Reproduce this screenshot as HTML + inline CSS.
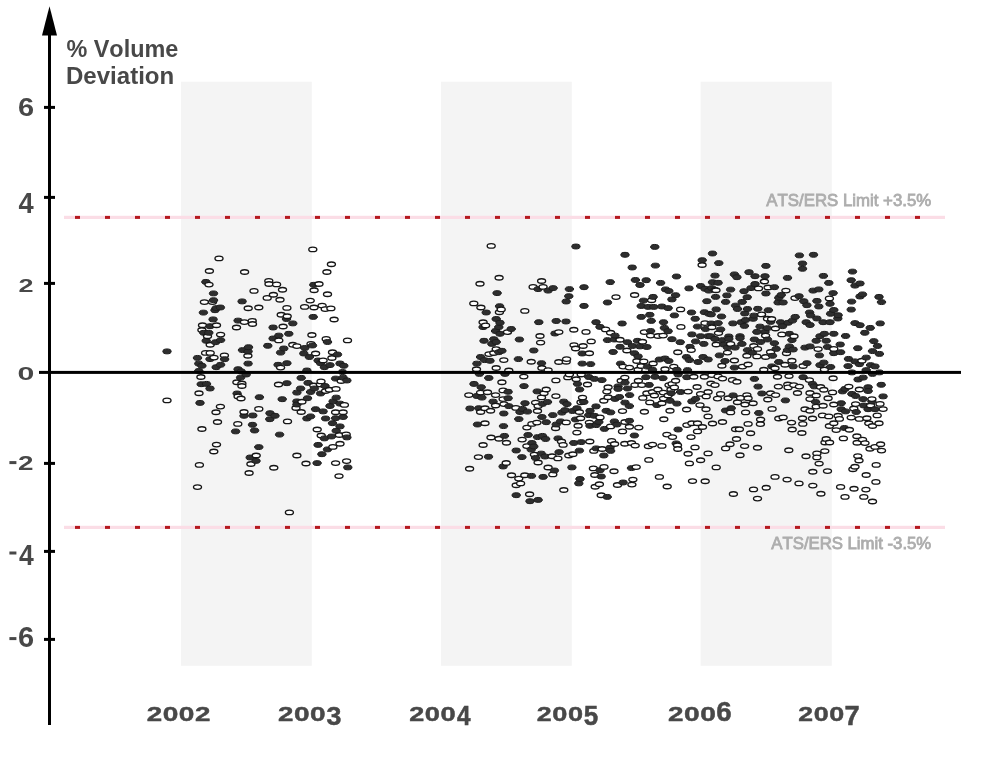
<!DOCTYPE html>
<html><head><meta charset="utf-8"><title>% Volume Deviation</title>
<style>
html,body{margin:0;padding:0;background:#fff}
body{width:1000px;height:776px;overflow:hidden;font-family:"Liberation Sans",sans-serif}
svg{display:block;will-change:transform;transform:translateZ(0)}
svg text{font-family:"Liberation Sans",sans-serif;font-kerning:none}
.f{fill:#2e2e2e;stroke:#1c1c1c;stroke-width:1}
.o{fill:#fff;stroke:#161616;stroke-width:1.4}
</style></head><body>
<svg width="1000" height="776" viewBox="0 0 1000 776">
<rect width="1000" height="776" fill="#fff"/>
<rect x="181" y="81.7" width="130.8" height="584.1" fill="#f4f4f4"/>
<rect x="441" y="81.7" width="130.8" height="584.1" fill="#f4f4f4"/>
<rect x="700.6" y="81.7" width="131.2" height="584.1" fill="#f4f4f4"/>
<rect x="64" y="215.8" width="881" height="3.2" fill="#fbdde6"/>
<g fill="#b5191f"><rect x="75" y="215.9" width="5" height="3"/><rect x="105" y="215.9" width="5" height="3"/><rect x="135" y="215.9" width="5" height="3"/><rect x="165" y="215.9" width="5" height="3"/><rect x="195" y="215.9" width="5" height="3"/><rect x="225" y="215.9" width="5" height="3"/><rect x="255" y="215.9" width="5" height="3"/><rect x="285" y="215.9" width="5" height="3"/><rect x="315" y="215.9" width="5" height="3"/><rect x="345" y="215.9" width="5" height="3"/><rect x="375" y="215.9" width="5" height="3"/><rect x="405" y="215.9" width="5" height="3"/><rect x="435" y="215.9" width="5" height="3"/><rect x="465" y="215.9" width="5" height="3"/><rect x="495" y="215.9" width="5" height="3"/><rect x="525" y="215.9" width="5" height="3"/><rect x="555" y="215.9" width="5" height="3"/><rect x="585" y="215.9" width="5" height="3"/><rect x="615" y="215.9" width="5" height="3"/><rect x="645" y="215.9" width="5" height="3"/><rect x="675" y="215.9" width="5" height="3"/><rect x="705" y="215.9" width="5" height="3"/><rect x="735" y="215.9" width="5" height="3"/><rect x="765" y="215.9" width="5" height="3"/><rect x="795" y="215.9" width="5" height="3"/><rect x="825" y="215.9" width="5" height="3"/><rect x="855" y="215.9" width="5" height="3"/><rect x="885" y="215.9" width="5" height="3"/><rect x="915" y="215.9" width="5" height="3"/></g>
<rect x="64" y="525.8" width="881" height="3.2" fill="#fbdde6"/>
<g fill="#b5191f"><rect x="75" y="525.9" width="5" height="3"/><rect x="105" y="525.9" width="5" height="3"/><rect x="135" y="525.9" width="5" height="3"/><rect x="165" y="525.9" width="5" height="3"/><rect x="195" y="525.9" width="5" height="3"/><rect x="225" y="525.9" width="5" height="3"/><rect x="255" y="525.9" width="5" height="3"/><rect x="285" y="525.9" width="5" height="3"/><rect x="315" y="525.9" width="5" height="3"/><rect x="345" y="525.9" width="5" height="3"/><rect x="375" y="525.9" width="5" height="3"/><rect x="405" y="525.9" width="5" height="3"/><rect x="435" y="525.9" width="5" height="3"/><rect x="465" y="525.9" width="5" height="3"/><rect x="495" y="525.9" width="5" height="3"/><rect x="525" y="525.9" width="5" height="3"/><rect x="555" y="525.9" width="5" height="3"/><rect x="585" y="525.9" width="5" height="3"/><rect x="615" y="525.9" width="5" height="3"/><rect x="645" y="525.9" width="5" height="3"/><rect x="675" y="525.9" width="5" height="3"/><rect x="705" y="525.9" width="5" height="3"/><rect x="735" y="525.9" width="5" height="3"/><rect x="765" y="525.9" width="5" height="3"/><rect x="795" y="525.9" width="5" height="3"/><rect x="825" y="525.9" width="5" height="3"/><rect x="855" y="525.9" width="5" height="3"/><rect x="885" y="525.9" width="5" height="3"/><rect x="915" y="525.9" width="5" height="3"/></g>
<text transform="matrix(0.1682 0 0 0.1607 766.37 206.24)" font-size="100" font-weight="normal" fill="#adadad" stroke="#adadad" stroke-width="0.8" vector-effect="non-scaling-stroke">ATS/ERS Limit +3.5%</text>
<text transform="matrix(0.1674 0 0 0.1607 771.37 549.24)" font-size="100" font-weight="normal" fill="#adadad" stroke="#adadad" stroke-width="0.8" vector-effect="non-scaling-stroke">ATS/ERS Limit -3.5%</text>
<g><ellipse class="f" cx="167" cy="351.4" rx="4.2" ry="2.45"/><ellipse class="o" cx="167" cy="400.4" rx="4" ry="2.25"/><ellipse class="f" cx="197.5" cy="357.9" rx="4.2" ry="2.45"/><ellipse class="o" cx="197.5" cy="487.1" rx="4" ry="2.25"/><ellipse class="f" cx="198.8" cy="363.6" rx="4.2" ry="2.45"/><ellipse class="f" cx="198.8" cy="371" rx="4.2" ry="2.45"/><ellipse class="o" cx="199" cy="393.2" rx="4" ry="2.25"/><ellipse class="o" cx="199.4" cy="464.9" rx="4" ry="2.25"/><ellipse class="f" cx="200" cy="402.9" rx="4.2" ry="2.45"/><ellipse class="o" cx="200.9" cy="377" rx="4" ry="2.25"/><ellipse class="f" cx="201.2" cy="384.2" rx="4.2" ry="2.45"/><ellipse class="o" cx="201.9" cy="330" rx="4" ry="2.25"/><ellipse class="f" cx="201.9" cy="365.8" rx="4.2" ry="2.45"/><ellipse class="o" cx="201.9" cy="429" rx="4" ry="2.25"/><ellipse class="o" cx="202.5" cy="325.2" rx="4" ry="2.25"/><ellipse class="f" cx="203.4" cy="312.6" rx="4.2" ry="2.45"/><ellipse class="f" cx="203.8" cy="332.8" rx="4.2" ry="2.45"/><ellipse class="o" cx="204.4" cy="302.1" rx="4" ry="2.25"/><ellipse class="o" cx="205.6" cy="352.9" rx="4" ry="2.25"/><ellipse class="f" cx="205.9" cy="281.9" rx="4.2" ry="2.45"/><ellipse class="f" cx="206.2" cy="340.8" rx="4.2" ry="2.45"/><ellipse class="f" cx="206.5" cy="383.9" rx="4.2" ry="2.45"/><ellipse class="o" cx="207.5" cy="336.2" rx="4" ry="2.25"/><ellipse class="f" cx="208.8" cy="332.8" rx="4.2" ry="2.45"/><ellipse class="o" cx="209" cy="284.6" rx="4" ry="2.25"/><ellipse class="o" cx="209.4" cy="271" rx="4" ry="2.25"/><ellipse class="f" cx="210" cy="326.2" rx="4.2" ry="2.45"/><ellipse class="f" cx="210" cy="359.1" rx="4.2" ry="2.45"/><ellipse class="f" cx="210" cy="388.5" rx="4.2" ry="2.45"/><ellipse class="o" cx="210.2" cy="344.8" rx="4" ry="2.25"/><ellipse class="o" cx="210.2" cy="352.9" rx="4" ry="2.25"/><ellipse class="o" cx="212.5" cy="302.1" rx="4" ry="2.25"/><ellipse class="f" cx="213.1" cy="319.4" rx="4.2" ry="2.45"/><ellipse class="f" cx="213.5" cy="293.4" rx="4.2" ry="2.45"/><ellipse class="f" cx="213.5" cy="300.2" rx="4.2" ry="2.45"/><ellipse class="o" cx="213.8" cy="451.5" rx="4" ry="2.25"/><ellipse class="o" cx="214" cy="357.6" rx="4" ry="2.25"/><ellipse class="f" cx="215" cy="310.2" rx="4.2" ry="2.45"/><ellipse class="f" cx="215.6" cy="342.2" rx="4.2" ry="2.45"/><ellipse class="o" cx="216" cy="412.2" rx="4" ry="2.25"/><ellipse class="f" cx="216.2" cy="308.1" rx="4.2" ry="2.45"/><ellipse class="f" cx="216.2" cy="367.2" rx="4.2" ry="2.45"/><ellipse class="o" cx="216.5" cy="325.2" rx="4" ry="2.25"/><ellipse class="o" cx="216.5" cy="444.6" rx="4" ry="2.25"/><ellipse class="o" cx="217.5" cy="422" rx="4" ry="2.25"/><ellipse class="o" cx="219" cy="258.4" rx="4" ry="2.25"/><ellipse class="f" cx="220.4" cy="307.5" rx="4.2" ry="2.45"/><ellipse class="o" cx="220.4" cy="406.6" rx="4" ry="2.25"/><ellipse class="o" cx="220.6" cy="334.6" rx="4" ry="2.25"/><ellipse class="f" cx="220.6" cy="340.1" rx="4.2" ry="2.45"/><ellipse class="f" cx="220.6" cy="364.8" rx="4.2" ry="2.45"/><ellipse class="o" cx="224.4" cy="355.4" rx="4" ry="2.25"/><ellipse class="f" cx="224.6" cy="359.2" rx="4.2" ry="2.45"/><ellipse class="f" cx="235.6" cy="431.4" rx="4.2" ry="2.45"/><ellipse class="o" cx="236.5" cy="327.5" rx="4" ry="2.25"/><ellipse class="o" cx="236.9" cy="382.2" rx="4" ry="2.25"/><ellipse class="f" cx="237.1" cy="393.5" rx="4.2" ry="2.45"/><ellipse class="o" cx="237.8" cy="423.9" rx="4" ry="2.25"/><ellipse class="f" cx="238.1" cy="320.6" rx="4.2" ry="2.45"/><ellipse class="f" cx="238.1" cy="369.2" rx="4.2" ry="2.45"/><ellipse class="o" cx="238.1" cy="396.4" rx="4" ry="2.25"/><ellipse class="f" cx="240.6" cy="377.6" rx="4.2" ry="2.45"/><ellipse class="o" cx="241" cy="398.5" rx="4" ry="2.25"/><ellipse class="f" cx="241.2" cy="371.4" rx="4.2" ry="2.45"/><ellipse class="o" cx="241.9" cy="383.5" rx="4" ry="2.25"/><ellipse class="o" cx="241.9" cy="386" rx="4" ry="2.25"/><ellipse class="f" cx="242.1" cy="301.4" rx="4.2" ry="2.45"/><ellipse class="f" cx="242.5" cy="350.1" rx="4.2" ry="2.45"/><ellipse class="f" cx="244" cy="415.8" rx="4.2" ry="2.45"/><ellipse class="o" cx="244" cy="412" rx="4" ry="2.25"/><ellipse class="o" cx="244.4" cy="322.1" rx="4" ry="2.25"/><ellipse class="o" cx="244.6" cy="272" rx="4" ry="2.25"/><ellipse class="f" cx="246.2" cy="374.5" rx="4.2" ry="2.45"/><ellipse class="o" cx="247.9" cy="355.8" rx="4" ry="2.25"/><ellipse class="f" cx="248.1" cy="351.4" rx="4.2" ry="2.45"/><ellipse class="f" cx="248.1" cy="363.6" rx="4.2" ry="2.45"/><ellipse class="o" cx="248.2" cy="308.2" rx="4" ry="2.25"/><ellipse class="f" cx="248.5" cy="347.2" rx="4.2" ry="2.45"/><ellipse class="o" cx="249.1" cy="473" rx="4" ry="2.25"/><ellipse class="f" cx="250.2" cy="457.5" rx="4.2" ry="2.45"/><ellipse class="o" cx="250.9" cy="464" rx="4" ry="2.25"/><ellipse class="o" cx="252.2" cy="320.9" rx="4" ry="2.25"/><ellipse class="o" cx="252.5" cy="324" rx="4" ry="2.25"/><ellipse class="f" cx="252.5" cy="424.8" rx="4.2" ry="2.45"/><ellipse class="f" cx="252.8" cy="415.5" rx="4.2" ry="2.45"/><ellipse class="o" cx="254" cy="290.9" rx="4" ry="2.25"/><ellipse class="f" cx="254.6" cy="430.5" rx="4.2" ry="2.45"/><ellipse class="f" cx="256" cy="460.9" rx="4.2" ry="2.45"/><ellipse class="o" cx="256.2" cy="455.5" rx="4" ry="2.25"/><ellipse class="o" cx="258.8" cy="307.5" rx="4" ry="2.25"/><ellipse class="o" cx="258.8" cy="408.9" rx="4" ry="2.25"/><ellipse class="f" cx="258.8" cy="447.1" rx="4.2" ry="2.45"/><ellipse class="f" cx="259.4" cy="397.2" rx="4.2" ry="2.45"/><ellipse class="o" cx="267.2" cy="297.9" rx="4" ry="2.25"/><ellipse class="f" cx="267.8" cy="345.8" rx="4.2" ry="2.45"/><ellipse class="o" cx="268.8" cy="280.9" rx="4" ry="2.25"/><ellipse class="o" cx="269" cy="284" rx="4" ry="2.25"/><ellipse class="f" cx="269.8" cy="419.2" rx="4.2" ry="2.45"/><ellipse class="f" cx="270" cy="413.2" rx="4.2" ry="2.45"/><ellipse class="f" cx="273.1" cy="327.5" rx="4.2" ry="2.45"/><ellipse class="f" cx="273.1" cy="338.5" rx="4.2" ry="2.45"/><ellipse class="o" cx="273.4" cy="294.8" rx="4" ry="2.25"/><ellipse class="o" cx="273.8" cy="467.8" rx="4" ry="2.25"/><ellipse class="f" cx="275" cy="415.8" rx="4.2" ry="2.45"/><ellipse class="o" cx="276.6" cy="284.4" rx="4" ry="2.25"/><ellipse class="f" cx="278.1" cy="364.8" rx="4.2" ry="2.45"/><ellipse class="o" cx="278.5" cy="384.5" rx="4" ry="2.25"/><ellipse class="f" cx="278.8" cy="335.6" rx="4.2" ry="2.45"/><ellipse class="o" cx="278.8" cy="340.4" rx="4" ry="2.25"/><ellipse class="f" cx="279.6" cy="434.6" rx="4.2" ry="2.45"/><ellipse class="o" cx="280" cy="299.8" rx="4" ry="2.25"/><ellipse class="f" cx="280.6" cy="352.6" rx="4.2" ry="2.45"/><ellipse class="o" cx="280.6" cy="367.6" rx="4" ry="2.25"/><ellipse class="o" cx="281.2" cy="314.8" rx="4" ry="2.25"/><ellipse class="f" cx="282.2" cy="399.2" rx="4.2" ry="2.45"/><ellipse class="o" cx="282.5" cy="289.8" rx="4" ry="2.25"/><ellipse class="o" cx="283.1" cy="326.5" rx="4" ry="2.25"/><ellipse class="f" cx="283.8" cy="348.5" rx="4.2" ry="2.45"/><ellipse class="f" cx="286.5" cy="319" rx="4.2" ry="2.45"/><ellipse class="o" cx="286.9" cy="307.9" rx="4" ry="2.25"/><ellipse class="f" cx="286.9" cy="363.2" rx="4.2" ry="2.45"/><ellipse class="f" cx="286.9" cy="383.2" rx="4.2" ry="2.45"/><ellipse class="o" cx="287.2" cy="316.2" rx="4" ry="2.25"/><ellipse class="o" cx="287.5" cy="421.4" rx="4" ry="2.25"/><ellipse class="f" cx="288.8" cy="333.8" rx="4.2" ry="2.45"/><ellipse class="o" cx="289.4" cy="512.4" rx="4" ry="2.25"/><ellipse class="f" cx="292.8" cy="323.4" rx="4.2" ry="2.45"/><ellipse class="o" cx="292.8" cy="344.8" rx="4" ry="2.25"/><ellipse class="o" cx="296" cy="408" rx="4" ry="2.25"/><ellipse class="f" cx="296.9" cy="392.6" rx="4.2" ry="2.45"/><ellipse class="f" cx="296.9" cy="401.4" rx="4.2" ry="2.45"/><ellipse class="f" cx="296.9" cy="404.5" rx="4.2" ry="2.45"/><ellipse class="o" cx="296.9" cy="346.1" rx="4" ry="2.25"/><ellipse class="o" cx="296.9" cy="455.5" rx="4" ry="2.25"/><ellipse class="f" cx="300.6" cy="388.5" rx="4.2" ry="2.45"/><ellipse class="f" cx="301.2" cy="377.9" rx="4.2" ry="2.45"/><ellipse class="o" cx="301.2" cy="412" rx="4" ry="2.25"/><ellipse class="o" cx="301.9" cy="401.8" rx="4" ry="2.25"/><ellipse class="f" cx="303.8" cy="353.5" rx="4.2" ry="2.45"/><ellipse class="o" cx="304.6" cy="306.9" rx="4" ry="2.25"/><ellipse class="f" cx="304.8" cy="348" rx="4.2" ry="2.45"/><ellipse class="o" cx="306" cy="463.5" rx="4" ry="2.25"/><ellipse class="f" cx="306.9" cy="370.5" rx="4.2" ry="2.45"/><ellipse class="f" cx="306.9" cy="418.5" rx="4.2" ry="2.45"/><ellipse class="f" cx="307.5" cy="398.2" rx="4.2" ry="2.45"/><ellipse class="f" cx="308.1" cy="382.9" rx="4.2" ry="2.45"/><ellipse class="f" cx="309.4" cy="357" rx="4.2" ry="2.45"/><ellipse class="o" cx="310.2" cy="300.6" rx="4" ry="2.25"/><ellipse class="f" cx="310.6" cy="392" rx="4.2" ry="2.45"/><ellipse class="f" cx="310.6" cy="416.4" rx="4.2" ry="2.45"/><ellipse class="o" cx="311" cy="343.9" rx="4" ry="2.25"/><ellipse class="o" cx="311.9" cy="335" rx="4" ry="2.25"/><ellipse class="f" cx="312.5" cy="345.5" rx="4.2" ry="2.45"/><ellipse class="o" cx="312.8" cy="249.4" rx="4" ry="2.25"/><ellipse class="f" cx="313.2" cy="316.9" rx="4.2" ry="2.45"/><ellipse class="f" cx="313.8" cy="284.8" rx="4.2" ry="2.45"/><ellipse class="o" cx="313.8" cy="385.5" rx="4" ry="2.25"/><ellipse class="o" cx="314" cy="307.5" rx="4" ry="2.25"/><ellipse class="o" cx="314.1" cy="290.2" rx="4" ry="2.25"/><ellipse class="f" cx="314.4" cy="388.5" rx="4.2" ry="2.45"/><ellipse class="f" cx="315.6" cy="409.2" rx="4.2" ry="2.45"/><ellipse class="o" cx="315.6" cy="353.5" rx="4" ry="2.25"/><ellipse class="f" cx="317.1" cy="463.1" rx="4.2" ry="2.45"/><ellipse class="o" cx="317.2" cy="429.5" rx="4" ry="2.25"/><ellipse class="f" cx="318.1" cy="360.5" rx="4.2" ry="2.45"/><ellipse class="f" cx="318.1" cy="444.9" rx="4.2" ry="2.45"/><ellipse class="o" cx="319" cy="284" rx="4" ry="2.25"/><ellipse class="o" cx="320.4" cy="384.5" rx="4" ry="2.25"/><ellipse class="f" cx="320.6" cy="363.2" rx="4.2" ry="2.45"/><ellipse class="f" cx="320.6" cy="393.5" rx="4.2" ry="2.45"/><ellipse class="o" cx="321" cy="381.4" rx="4" ry="2.25"/><ellipse class="o" cx="321.2" cy="435.5" rx="4" ry="2.25"/><ellipse class="f" cx="321.9" cy="454.2" rx="4.2" ry="2.45"/><ellipse class="o" cx="322.1" cy="305.6" rx="4" ry="2.25"/><ellipse class="f" cx="323.1" cy="411.4" rx="4.2" ry="2.45"/><ellipse class="o" cx="323.1" cy="360.4" rx="4" ry="2.25"/><ellipse class="f" cx="324.4" cy="367.2" rx="4.2" ry="2.45"/><ellipse class="f" cx="324.4" cy="438.4" rx="4.2" ry="2.45"/><ellipse class="f" cx="325" cy="386" rx="4.2" ry="2.45"/><ellipse class="o" cx="325.2" cy="309.1" rx="4" ry="2.25"/><ellipse class="f" cx="325.6" cy="418.5" rx="4.2" ry="2.45"/><ellipse class="o" cx="325.6" cy="391" rx="4" ry="2.25"/><ellipse class="o" cx="326.2" cy="338.9" rx="4" ry="2.25"/><ellipse class="o" cx="326.9" cy="272" rx="4" ry="2.25"/><ellipse class="o" cx="327.5" cy="294.2" rx="4" ry="2.25"/><ellipse class="f" cx="327.5" cy="342" rx="4.2" ry="2.45"/><ellipse class="f" cx="327.5" cy="449.4" rx="4.2" ry="2.45"/><ellipse class="o" cx="329.4" cy="389.8" rx="4" ry="2.25"/><ellipse class="f" cx="330" cy="365.1" rx="4.2" ry="2.45"/><ellipse class="f" cx="330" cy="406" rx="4.2" ry="2.45"/><ellipse class="o" cx="330.9" cy="308.4" rx="4" ry="2.25"/><ellipse class="o" cx="331.4" cy="264.2" rx="4" ry="2.25"/><ellipse class="f" cx="331.5" cy="436.5" rx="4.2" ry="2.45"/><ellipse class="o" cx="331.9" cy="358" rx="4" ry="2.25"/><ellipse class="f" cx="332.5" cy="423.2" rx="4.2" ry="2.45"/><ellipse class="o" cx="332.5" cy="352.2" rx="4" ry="2.25"/><ellipse class="o" cx="332.9" cy="446.9" rx="4" ry="2.25"/><ellipse class="f" cx="333.1" cy="401.4" rx="4.2" ry="2.45"/><ellipse class="o" cx="334.1" cy="319.5" rx="4" ry="2.25"/><ellipse class="f" cx="335.6" cy="378.6" rx="4.2" ry="2.45"/><ellipse class="f" cx="335.6" cy="418.2" rx="4.2" ry="2.45"/><ellipse class="o" cx="335.6" cy="412.2" rx="4" ry="2.25"/><ellipse class="o" cx="335.6" cy="463.1" rx="4" ry="2.25"/><ellipse class="o" cx="336" cy="388.9" rx="4" ry="2.25"/><ellipse class="f" cx="336.2" cy="397.6" rx="4.2" ry="2.45"/><ellipse class="f" cx="336.2" cy="430.8" rx="4.2" ry="2.45"/><ellipse class="f" cx="337.5" cy="354.5" rx="4.2" ry="2.45"/><ellipse class="o" cx="339" cy="476.1" rx="4" ry="2.25"/><ellipse class="o" cx="339.4" cy="435" rx="4" ry="2.25"/><ellipse class="f" cx="340" cy="363.5" rx="4.2" ry="2.45"/><ellipse class="f" cx="340" cy="403.6" rx="4.2" ry="2.45"/><ellipse class="f" cx="340" cy="426.4" rx="4.2" ry="2.45"/><ellipse class="o" cx="340" cy="443.8" rx="4" ry="2.25"/><ellipse class="o" cx="341.2" cy="381" rx="4" ry="2.25"/><ellipse class="f" cx="342.5" cy="372" rx="4.2" ry="2.45"/><ellipse class="f" cx="343.1" cy="377.6" rx="4.2" ry="2.45"/><ellipse class="f" cx="343.1" cy="417" rx="4.2" ry="2.45"/><ellipse class="o" cx="343.1" cy="412.2" rx="4" ry="2.25"/><ellipse class="f" cx="343.8" cy="365.8" rx="4.2" ry="2.45"/><ellipse class="o" cx="344.4" cy="404.9" rx="4" ry="2.25"/><ellipse class="o" cx="346.2" cy="434.4" rx="4" ry="2.25"/><ellipse class="o" cx="346.6" cy="461.1" rx="4" ry="2.25"/><ellipse class="f" cx="346.9" cy="380.5" rx="4.2" ry="2.45"/><ellipse class="f" cx="346.9" cy="437.4" rx="4.2" ry="2.45"/><ellipse class="o" cx="347.5" cy="340.4" rx="4" ry="2.25"/><ellipse class="f" cx="347.8" cy="467.4" rx="4.2" ry="2.45"/><ellipse class="o" cx="468.8" cy="395.1" rx="4" ry="2.25"/><ellipse class="o" cx="469.6" cy="468.8" rx="4" ry="2.25"/><ellipse class="f" cx="470" cy="408.5" rx="4.2" ry="2.45"/><ellipse class="o" cx="473.8" cy="303.4" rx="4" ry="2.25"/><ellipse class="f" cx="474" cy="383.9" rx="4.2" ry="2.45"/><ellipse class="o" cx="476.5" cy="369.2" rx="4" ry="2.25"/><ellipse class="f" cx="476.9" cy="363.6" rx="4.2" ry="2.45"/><ellipse class="f" cx="476.9" cy="396" rx="4.2" ry="2.45"/><ellipse class="f" cx="477.5" cy="424.5" rx="4.2" ry="2.45"/><ellipse class="o" cx="478.4" cy="457.1" rx="4" ry="2.25"/><ellipse class="f" cx="478.8" cy="408.2" rx="4.2" ry="2.45"/><ellipse class="f" cx="479.4" cy="373.9" rx="4.2" ry="2.45"/><ellipse class="o" cx="480" cy="283.8" rx="4" ry="2.25"/><ellipse class="f" cx="480.6" cy="357" rx="4.2" ry="2.45"/><ellipse class="o" cx="480.6" cy="392.6" rx="4" ry="2.25"/><ellipse class="o" cx="480.6" cy="412" rx="4" ry="2.25"/><ellipse class="o" cx="480.9" cy="307.5" rx="4" ry="2.25"/><ellipse class="f" cx="481.2" cy="387.2" rx="4.2" ry="2.45"/><ellipse class="f" cx="481.9" cy="397.6" rx="4.2" ry="2.45"/><ellipse class="o" cx="483.1" cy="322.2" rx="4" ry="2.25"/><ellipse class="f" cx="483.1" cy="327.1" rx="4.2" ry="2.45"/><ellipse class="o" cx="483.1" cy="445" rx="4" ry="2.25"/><ellipse class="f" cx="484" cy="340.8" rx="4.2" ry="2.45"/><ellipse class="f" cx="484.4" cy="360.1" rx="4.2" ry="2.45"/><ellipse class="o" cx="485" cy="408.2" rx="4" ry="2.25"/><ellipse class="o" cx="485" cy="423.2" rx="4" ry="2.25"/><ellipse class="o" cx="485.6" cy="325.4" rx="4" ry="2.25"/><ellipse class="f" cx="486.2" cy="312.5" rx="4.2" ry="2.45"/><ellipse class="o" cx="487.5" cy="392.2" rx="4" ry="2.25"/><ellipse class="f" cx="488.5" cy="456.8" rx="4.2" ry="2.45"/><ellipse class="f" cx="488.8" cy="378" rx="4.2" ry="2.45"/><ellipse class="o" cx="489" cy="354.1" rx="4" ry="2.25"/><ellipse class="f" cx="490" cy="360.8" rx="4.2" ry="2.45"/><ellipse class="o" cx="490.6" cy="410.8" rx="4" ry="2.25"/><ellipse class="o" cx="491" cy="437.5" rx="4" ry="2.25"/><ellipse class="o" cx="491.2" cy="245.9" rx="4" ry="2.25"/><ellipse class="f" cx="491.9" cy="343.9" rx="4.2" ry="2.45"/><ellipse class="f" cx="493.1" cy="401.6" rx="4.2" ry="2.45"/><ellipse class="f" cx="493.8" cy="339.2" rx="4.2" ry="2.45"/><ellipse class="o" cx="493.8" cy="353" rx="4" ry="2.25"/><ellipse class="f" cx="495.6" cy="331" rx="4.2" ry="2.45"/><ellipse class="o" cx="495.6" cy="395.1" rx="4" ry="2.25"/><ellipse class="o" cx="495.6" cy="405.5" rx="4" ry="2.25"/><ellipse class="f" cx="496.2" cy="319" rx="4.2" ry="2.45"/><ellipse class="f" cx="496.2" cy="342" rx="4.2" ry="2.45"/><ellipse class="o" cx="496.2" cy="349.1" rx="4" ry="2.25"/><ellipse class="o" cx="496.2" cy="368" rx="4" ry="2.25"/><ellipse class="f" cx="497.1" cy="293.1" rx="4.2" ry="2.45"/><ellipse class="f" cx="498.8" cy="327.1" rx="4.2" ry="2.45"/><ellipse class="f" cx="498.8" cy="352.2" rx="4.2" ry="2.45"/><ellipse class="o" cx="499" cy="438.8" rx="4" ry="2.25"/><ellipse class="o" cx="499.1" cy="277.8" rx="4" ry="2.25"/><ellipse class="o" cx="499.4" cy="312.2" rx="4" ry="2.25"/><ellipse class="f" cx="499.6" cy="306.2" rx="4.2" ry="2.45"/><ellipse class="f" cx="500" cy="322.8" rx="4.2" ry="2.45"/><ellipse class="f" cx="500" cy="333.8" rx="4.2" ry="2.45"/><ellipse class="o" cx="501.2" cy="309.4" rx="4" ry="2.25"/><ellipse class="f" cx="501.9" cy="350.8" rx="4.2" ry="2.45"/><ellipse class="o" cx="501.9" cy="382.2" rx="4" ry="2.25"/><ellipse class="o" cx="503.1" cy="390.4" rx="4" ry="2.25"/><ellipse class="o" cx="503.1" cy="399.1" rx="4" ry="2.25"/><ellipse class="f" cx="503.1" cy="466.5" rx="4.2" ry="2.45"/><ellipse class="f" cx="503.5" cy="426.1" rx="4.2" ry="2.45"/><ellipse class="f" cx="503.8" cy="413.5" rx="4.2" ry="2.45"/><ellipse class="o" cx="503.8" cy="360.1" rx="4" ry="2.25"/><ellipse class="o" cx="504" cy="404.1" rx="4" ry="2.25"/><ellipse class="f" cx="504.4" cy="435.9" rx="4.2" ry="2.45"/><ellipse class="f" cx="505" cy="373.9" rx="4.2" ry="2.45"/><ellipse class="o" cx="506.2" cy="463" rx="4" ry="2.25"/><ellipse class="o" cx="506.5" cy="442.8" rx="4" ry="2.25"/><ellipse class="o" cx="507.5" cy="332.1" rx="4" ry="2.25"/><ellipse class="f" cx="508.1" cy="391.8" rx="4.2" ry="2.45"/><ellipse class="f" cx="508.1" cy="398.2" rx="4.2" ry="2.45"/><ellipse class="f" cx="508.8" cy="406.1" rx="4.2" ry="2.45"/><ellipse class="o" cx="508.8" cy="370.5" rx="4" ry="2.25"/><ellipse class="f" cx="511.2" cy="329" rx="4.2" ry="2.45"/><ellipse class="o" cx="511.5" cy="475.2" rx="4" ry="2.25"/><ellipse class="o" cx="515.9" cy="407.9" rx="4" ry="2.25"/><ellipse class="f" cx="516.2" cy="450.5" rx="4.2" ry="2.45"/><ellipse class="f" cx="516.2" cy="495.2" rx="4.2" ry="2.45"/><ellipse class="o" cx="516.2" cy="485.2" rx="4" ry="2.25"/><ellipse class="f" cx="518.4" cy="359.1" rx="4.2" ry="2.45"/><ellipse class="f" cx="518.8" cy="419.1" rx="4.2" ry="2.45"/><ellipse class="o" cx="518.8" cy="478.6" rx="4" ry="2.25"/><ellipse class="f" cx="519.4" cy="339.5" rx="4.2" ry="2.45"/><ellipse class="f" cx="520" cy="412" rx="4.2" ry="2.45"/><ellipse class="o" cx="520.6" cy="483.4" rx="4" ry="2.25"/><ellipse class="f" cx="521.9" cy="457.1" rx="4.2" ry="2.45"/><ellipse class="o" cx="522.1" cy="439.6" rx="4" ry="2.25"/><ellipse class="f" cx="522.5" cy="408.9" rx="4.2" ry="2.45"/><ellipse class="o" cx="523.8" cy="376.6" rx="4" ry="2.25"/><ellipse class="f" cx="524" cy="386.1" rx="4.2" ry="2.45"/><ellipse class="o" cx="524.8" cy="310.9" rx="4" ry="2.25"/><ellipse class="o" cx="524.8" cy="475.2" rx="4" ry="2.25"/><ellipse class="f" cx="525" cy="403.2" rx="4.2" ry="2.45"/><ellipse class="o" cx="526.9" cy="427.6" rx="4" ry="2.25"/><ellipse class="o" cx="526.9" cy="446.1" rx="4" ry="2.25"/><ellipse class="f" cx="527.5" cy="411.6" rx="4.2" ry="2.45"/><ellipse class="f" cx="528.1" cy="435" rx="4.2" ry="2.45"/><ellipse class="o" cx="529.6" cy="494.2" rx="4" ry="2.25"/><ellipse class="f" cx="530" cy="501.2" rx="4.2" ry="2.45"/><ellipse class="o" cx="531.2" cy="361.8" rx="4" ry="2.25"/><ellipse class="f" cx="531.2" cy="449.6" rx="4.2" ry="2.45"/><ellipse class="f" cx="531.5" cy="475.9" rx="4.2" ry="2.45"/><ellipse class="o" cx="531.9" cy="423.9" rx="4" ry="2.25"/><ellipse class="f" cx="531.9" cy="443" rx="4.2" ry="2.45"/><ellipse class="o" cx="533.1" cy="286.9" rx="4" ry="2.25"/><ellipse class="f" cx="533.8" cy="350.5" rx="4.2" ry="2.45"/><ellipse class="f" cx="533.8" cy="446.5" rx="4.2" ry="2.45"/><ellipse class="o" cx="534.4" cy="454.6" rx="4" ry="2.25"/><ellipse class="o" cx="535.6" cy="402.6" rx="4" ry="2.25"/><ellipse class="f" cx="535.6" cy="458" rx="4.2" ry="2.45"/><ellipse class="o" cx="536.9" cy="422.6" rx="4" ry="2.25"/><ellipse class="f" cx="537.2" cy="391.4" rx="4.2" ry="2.45"/><ellipse class="o" cx="537.5" cy="411" rx="4" ry="2.25"/><ellipse class="f" cx="537.5" cy="437.1" rx="4.2" ry="2.45"/><ellipse class="f" cx="538.1" cy="289.1" rx="4.2" ry="2.45"/><ellipse class="o" cx="538.1" cy="406.1" rx="4" ry="2.25"/><ellipse class="f" cx="538.1" cy="499.9" rx="4.2" ry="2.45"/><ellipse class="o" cx="538.1" cy="462.5" rx="4" ry="2.25"/><ellipse class="f" cx="538.8" cy="322.2" rx="4.2" ry="2.45"/><ellipse class="o" cx="540" cy="336" rx="4" ry="2.25"/><ellipse class="o" cx="540.6" cy="342.6" rx="4" ry="2.25"/><ellipse class="f" cx="541.2" cy="453.6" rx="4.2" ry="2.45"/><ellipse class="f" cx="541.5" cy="363.2" rx="4.2" ry="2.45"/><ellipse class="o" cx="541.5" cy="397.4" rx="4" ry="2.25"/><ellipse class="o" cx="541.6" cy="281" rx="4" ry="2.25"/><ellipse class="f" cx="541.9" cy="417" rx="4.2" ry="2.45"/><ellipse class="o" cx="541.9" cy="368" rx="4" ry="2.25"/><ellipse class="f" cx="542.5" cy="403.9" rx="4.2" ry="2.45"/><ellipse class="f" cx="542.5" cy="435.9" rx="4.2" ry="2.45"/><ellipse class="o" cx="543.1" cy="286.9" rx="4" ry="2.25"/><ellipse class="f" cx="543.1" cy="476.9" rx="4.2" ry="2.45"/><ellipse class="o" cx="544" cy="393.2" rx="4" ry="2.25"/><ellipse class="f" cx="545" cy="456.5" rx="4.2" ry="2.45"/><ellipse class="f" cx="545.6" cy="439" rx="4.2" ry="2.45"/><ellipse class="f" cx="546.2" cy="422.2" rx="4.2" ry="2.45"/><ellipse class="o" cx="546.2" cy="389.5" rx="4" ry="2.25"/><ellipse class="f" cx="547.5" cy="402" rx="4.2" ry="2.45"/><ellipse class="f" cx="548.1" cy="290.6" rx="4.2" ry="2.45"/><ellipse class="o" cx="548.1" cy="370.1" rx="4" ry="2.25"/><ellipse class="o" cx="548.1" cy="467.5" rx="4" ry="2.25"/><ellipse class="o" cx="552.1" cy="456.2" rx="4" ry="2.25"/><ellipse class="f" cx="552.8" cy="415.1" rx="4.2" ry="2.45"/><ellipse class="o" cx="552.8" cy="474.4" rx="4" ry="2.25"/><ellipse class="f" cx="553.1" cy="288.1" rx="4.2" ry="2.45"/><ellipse class="f" cx="554.4" cy="470.5" rx="4.2" ry="2.45"/><ellipse class="f" cx="555" cy="333.5" rx="4.2" ry="2.45"/><ellipse class="o" cx="555.6" cy="428.2" rx="4" ry="2.25"/><ellipse class="o" cx="555.9" cy="380.4" rx="4" ry="2.25"/><ellipse class="o" cx="555.9" cy="396.1" rx="4" ry="2.25"/><ellipse class="f" cx="556.2" cy="321" rx="4.2" ry="2.45"/><ellipse class="f" cx="556.2" cy="424.5" rx="4.2" ry="2.45"/><ellipse class="o" cx="557.9" cy="458.4" rx="4" ry="2.25"/><ellipse class="f" cx="558.1" cy="438.4" rx="4.2" ry="2.45"/><ellipse class="o" cx="558.8" cy="332.1" rx="4" ry="2.25"/><ellipse class="o" cx="558.8" cy="362" rx="4" ry="2.25"/><ellipse class="f" cx="559.1" cy="452.1" rx="4.2" ry="2.45"/><ellipse class="f" cx="560.6" cy="421.4" rx="4.2" ry="2.45"/><ellipse class="o" cx="561.5" cy="441.5" rx="4" ry="2.25"/><ellipse class="f" cx="561.9" cy="412.6" rx="4.2" ry="2.45"/><ellipse class="o" cx="563.1" cy="444.9" rx="4" ry="2.25"/><ellipse class="f" cx="563.8" cy="401.6" rx="4.2" ry="2.45"/><ellipse class="o" cx="563.8" cy="490" rx="4" ry="2.25"/><ellipse class="f" cx="565" cy="410.1" rx="4.2" ry="2.45"/><ellipse class="f" cx="566" cy="321.5" rx="4.2" ry="2.45"/><ellipse class="f" cx="566.2" cy="301.5" rx="4.2" ry="2.45"/><ellipse class="o" cx="566.2" cy="361.8" rx="4" ry="2.25"/><ellipse class="o" cx="566.2" cy="422.4" rx="4" ry="2.25"/><ellipse class="o" cx="566.6" cy="359.1" rx="4" ry="2.25"/><ellipse class="f" cx="566.9" cy="404.1" rx="4.2" ry="2.45"/><ellipse class="o" cx="567.8" cy="377.4" rx="4" ry="2.25"/><ellipse class="f" cx="568.8" cy="296.2" rx="4.2" ry="2.45"/><ellipse class="o" cx="568.8" cy="455.5" rx="4" ry="2.25"/><ellipse class="f" cx="569.4" cy="289.1" rx="4.2" ry="2.45"/><ellipse class="o" cx="569.4" cy="374.5" rx="4" ry="2.25"/><ellipse class="f" cx="571.9" cy="467.4" rx="4.2" ry="2.45"/><ellipse class="f" cx="572.5" cy="411" rx="4.2" ry="2.45"/><ellipse class="o" cx="572.9" cy="454.2" rx="4" ry="2.25"/><ellipse class="o" cx="573.8" cy="329.8" rx="4" ry="2.25"/><ellipse class="f" cx="573.8" cy="443" rx="4.2" ry="2.45"/><ellipse class="o" cx="574" cy="345.1" rx="4" ry="2.25"/><ellipse class="f" cx="575.6" cy="419.5" rx="4.2" ry="2.45"/><ellipse class="o" cx="575.6" cy="348.5" rx="4" ry="2.25"/><ellipse class="f" cx="575.9" cy="246.5" rx="4.2" ry="2.45"/><ellipse class="o" cx="576.2" cy="379.2" rx="4" ry="2.25"/><ellipse class="f" cx="576.9" cy="408.2" rx="4.2" ry="2.45"/><ellipse class="o" cx="576.9" cy="432.6" rx="4" ry="2.25"/><ellipse class="f" cx="577.5" cy="383.9" rx="4.2" ry="2.45"/><ellipse class="o" cx="578.1" cy="425.8" rx="4" ry="2.25"/><ellipse class="f" cx="578.8" cy="483.4" rx="4.2" ry="2.45"/><ellipse class="o" cx="579.4" cy="412" rx="4" ry="2.25"/><ellipse class="f" cx="579.4" cy="450.6" rx="4.2" ry="2.45"/><ellipse class="f" cx="579.6" cy="389.5" rx="4.2" ry="2.45"/><ellipse class="f" cx="580" cy="479" rx="4.2" ry="2.45"/><ellipse class="o" cx="580.6" cy="418.2" rx="4" ry="2.25"/><ellipse class="o" cx="581" cy="402.2" rx="4" ry="2.25"/><ellipse class="o" cx="581.2" cy="374.5" rx="4" ry="2.25"/><ellipse class="f" cx="581.2" cy="442.1" rx="4.2" ry="2.45"/><ellipse class="f" cx="582.2" cy="353.5" rx="4.2" ry="2.45"/><ellipse class="f" cx="582.2" cy="363.6" rx="4.2" ry="2.45"/><ellipse class="o" cx="582.5" cy="397.6" rx="4" ry="2.25"/><ellipse class="o" cx="583.1" cy="346" rx="4" ry="2.25"/><ellipse class="f" cx="583.8" cy="402" rx="4.2" ry="2.45"/><ellipse class="f" cx="584" cy="287.2" rx="4.2" ry="2.45"/><ellipse class="f" cx="584" cy="305.9" rx="4.2" ry="2.45"/><ellipse class="o" cx="586" cy="331.9" rx="4" ry="2.25"/><ellipse class="o" cx="587.5" cy="384.5" rx="4" ry="2.25"/><ellipse class="f" cx="588.8" cy="377" rx="4.2" ry="2.45"/><ellipse class="f" cx="588.8" cy="415.1" rx="4.2" ry="2.45"/><ellipse class="o" cx="589.4" cy="353.2" rx="4" ry="2.25"/><ellipse class="o" cx="589.4" cy="422.6" rx="4" ry="2.25"/><ellipse class="o" cx="589.8" cy="441.5" rx="4" ry="2.25"/><ellipse class="f" cx="590" cy="410.8" rx="4.2" ry="2.45"/><ellipse class="f" cx="590" cy="425.8" rx="4.2" ry="2.45"/><ellipse class="f" cx="590.6" cy="364.1" rx="4.2" ry="2.45"/><ellipse class="o" cx="591.2" cy="341.4" rx="4" ry="2.25"/><ellipse class="o" cx="593.4" cy="468.4" rx="4" ry="2.25"/><ellipse class="o" cx="593.8" cy="450.9" rx="4" ry="2.25"/><ellipse class="f" cx="594.4" cy="378.9" rx="4.2" ry="2.45"/><ellipse class="f" cx="594.4" cy="415.8" rx="4.2" ry="2.45"/><ellipse class="o" cx="594.8" cy="475" rx="4" ry="2.25"/><ellipse class="o" cx="595.2" cy="486.8" rx="4" ry="2.25"/><ellipse class="f" cx="596" cy="322.2" rx="4.2" ry="2.45"/><ellipse class="f" cx="596" cy="406.4" rx="4.2" ry="2.45"/><ellipse class="f" cx="596.2" cy="425.1" rx="4.2" ry="2.45"/><ellipse class="f" cx="596.2" cy="448.4" rx="4.2" ry="2.45"/><ellipse class="f" cx="598.8" cy="422" rx="4.2" ry="2.45"/><ellipse class="o" cx="599.4" cy="484.2" rx="4" ry="2.25"/><ellipse class="f" cx="600" cy="326.9" rx="4.2" ry="2.45"/><ellipse class="o" cx="600" cy="417.4" rx="4" ry="2.25"/><ellipse class="f" cx="600" cy="470.2" rx="4.2" ry="2.45"/><ellipse class="f" cx="601.2" cy="476.5" rx="4.2" ry="2.45"/><ellipse class="o" cx="601.2" cy="495.2" rx="4" ry="2.25"/><ellipse class="f" cx="601.9" cy="380.1" rx="4.2" ry="2.45"/><ellipse class="o" cx="602.1" cy="449" rx="4" ry="2.25"/><ellipse class="o" cx="603.8" cy="400.8" rx="4" ry="2.25"/><ellipse class="f" cx="603.8" cy="455.5" rx="4.2" ry="2.45"/><ellipse class="o" cx="604" cy="466.9" rx="4" ry="2.25"/><ellipse class="f" cx="604.4" cy="428.9" rx="4.2" ry="2.45"/><ellipse class="o" cx="605.6" cy="329.4" rx="4" ry="2.25"/><ellipse class="f" cx="606.2" cy="410.8" rx="4.2" ry="2.45"/><ellipse class="o" cx="606.9" cy="391.6" rx="4" ry="2.25"/><ellipse class="f" cx="607.2" cy="496.9" rx="4.2" ry="2.45"/><ellipse class="f" cx="607.5" cy="302.5" rx="4.2" ry="2.45"/><ellipse class="f" cx="607.5" cy="340.1" rx="4.2" ry="2.45"/><ellipse class="o" cx="608.1" cy="387.2" rx="4" ry="2.25"/><ellipse class="o" cx="608.1" cy="397.2" rx="4" ry="2.25"/><ellipse class="f" cx="610" cy="447.8" rx="4.2" ry="2.45"/><ellipse class="f" cx="610.2" cy="282.1" rx="4.2" ry="2.45"/><ellipse class="o" cx="610.6" cy="332.8" rx="4" ry="2.25"/><ellipse class="f" cx="610.6" cy="412.4" rx="4.2" ry="2.45"/><ellipse class="o" cx="610.6" cy="426.4" rx="4" ry="2.25"/><ellipse class="f" cx="610.6" cy="450.9" rx="4.2" ry="2.45"/><ellipse class="o" cx="611.6" cy="440.9" rx="4" ry="2.25"/><ellipse class="f" cx="613.1" cy="352" rx="4.2" ry="2.45"/><ellipse class="o" cx="614" cy="471.2" rx="4" ry="2.25"/><ellipse class="f" cx="614.4" cy="339.5" rx="4.2" ry="2.45"/><ellipse class="f" cx="614.4" cy="421.4" rx="4.2" ry="2.45"/><ellipse class="o" cx="614.6" cy="444" rx="4" ry="2.25"/><ellipse class="f" cx="615" cy="335.6" rx="4.2" ry="2.45"/><ellipse class="f" cx="615" cy="398.9" rx="4.2" ry="2.45"/><ellipse class="o" cx="616" cy="297.1" rx="4" ry="2.25"/><ellipse class="f" cx="616.9" cy="424.5" rx="4.2" ry="2.45"/><ellipse class="o" cx="617.5" cy="485" rx="4" ry="2.25"/><ellipse class="f" cx="618.1" cy="386.4" rx="4.2" ry="2.45"/><ellipse class="f" cx="618.1" cy="388.9" rx="4.2" ry="2.45"/><ellipse class="f" cx="619.4" cy="397" rx="4.2" ry="2.45"/><ellipse class="f" cx="620" cy="346.8" rx="4.2" ry="2.45"/><ellipse class="o" cx="620" cy="339.8" rx="4" ry="2.25"/><ellipse class="f" cx="620.6" cy="363.6" rx="4.2" ry="2.45"/><ellipse class="o" cx="621.2" cy="380.8" rx="4" ry="2.25"/><ellipse class="f" cx="622.1" cy="323.5" rx="4.2" ry="2.45"/><ellipse class="o" cx="622.5" cy="411.1" rx="4" ry="2.25"/><ellipse class="o" cx="622.5" cy="431.4" rx="4" ry="2.25"/><ellipse class="o" cx="623.1" cy="366.6" rx="4" ry="2.25"/><ellipse class="f" cx="623.1" cy="482.5" rx="4.2" ry="2.45"/><ellipse class="o" cx="624.8" cy="377.6" rx="4" ry="2.25"/><ellipse class="o" cx="624.8" cy="443.8" rx="4" ry="2.25"/><ellipse class="f" cx="625" cy="254.8" rx="4.2" ry="2.45"/><ellipse class="f" cx="625" cy="382.6" rx="4.2" ry="2.45"/><ellipse class="f" cx="625" cy="402.6" rx="4.2" ry="2.45"/><ellipse class="o" cx="625" cy="422" rx="4" ry="2.25"/><ellipse class="o" cx="626.9" cy="350.5" rx="4" ry="2.25"/><ellipse class="f" cx="627.5" cy="342.2" rx="4.2" ry="2.45"/><ellipse class="f" cx="627.5" cy="388.5" rx="4.2" ry="2.45"/><ellipse class="f" cx="629.4" cy="406.1" rx="4.2" ry="2.45"/><ellipse class="f" cx="629.4" cy="420.8" rx="4.2" ry="2.45"/><ellipse class="o" cx="629.4" cy="367.6" rx="4" ry="2.25"/><ellipse class="o" cx="629.4" cy="426.8" rx="4" ry="2.25"/><ellipse class="f" cx="629.6" cy="395.1" rx="4.2" ry="2.45"/><ellipse class="f" cx="631.5" cy="468.1" rx="4.2" ry="2.45"/><ellipse class="o" cx="631.5" cy="443" rx="4" ry="2.25"/><ellipse class="o" cx="631.9" cy="484.6" rx="4" ry="2.25"/><ellipse class="f" cx="632.2" cy="267.5" rx="4.2" ry="2.45"/><ellipse class="f" cx="632.5" cy="346" rx="4.2" ry="2.45"/><ellipse class="o" cx="632.9" cy="479.6" rx="4" ry="2.25"/><ellipse class="f" cx="634.4" cy="353.2" rx="4.2" ry="2.45"/><ellipse class="f" cx="634.4" cy="435.5" rx="4.2" ry="2.45"/><ellipse class="o" cx="634.6" cy="295" rx="4" ry="2.25"/><ellipse class="o" cx="635" cy="385.1" rx="4" ry="2.25"/><ellipse class="o" cx="635.2" cy="445.6" rx="4" ry="2.25"/><ellipse class="f" cx="635.4" cy="280" rx="4.2" ry="2.45"/><ellipse class="o" cx="636.2" cy="467.1" rx="4" ry="2.25"/><ellipse class="o" cx="636.9" cy="361" rx="4" ry="2.25"/><ellipse class="f" cx="637.5" cy="340.8" rx="4.2" ry="2.45"/><ellipse class="f" cx="638.1" cy="356.4" rx="4.2" ry="2.45"/><ellipse class="o" cx="638.1" cy="369.8" rx="4" ry="2.25"/><ellipse class="o" cx="638.4" cy="380.8" rx="4" ry="2.25"/><ellipse class="o" cx="638.8" cy="427.6" rx="4" ry="2.25"/><ellipse class="f" cx="640" cy="285" rx="4.2" ry="2.45"/><ellipse class="f" cx="640" cy="346.4" rx="4.2" ry="2.45"/><ellipse class="f" cx="641.2" cy="306" rx="4.2" ry="2.45"/><ellipse class="f" cx="641.2" cy="316.9" rx="4.2" ry="2.45"/><ellipse class="o" cx="641.2" cy="366" rx="4" ry="2.25"/><ellipse class="o" cx="641.9" cy="385.1" rx="4" ry="2.25"/><ellipse class="o" cx="642.5" cy="341.8" rx="4" ry="2.25"/><ellipse class="o" cx="642.8" cy="397.9" rx="4" ry="2.25"/><ellipse class="f" cx="643.5" cy="300.6" rx="4.2" ry="2.45"/><ellipse class="o" cx="643.8" cy="361.4" rx="4" ry="2.25"/><ellipse class="o" cx="644.4" cy="332.1" rx="4" ry="2.25"/><ellipse class="o" cx="644.4" cy="411.8" rx="4" ry="2.25"/><ellipse class="f" cx="645.9" cy="377.2" rx="4.2" ry="2.45"/><ellipse class="f" cx="646.2" cy="280.2" rx="4.2" ry="2.45"/><ellipse class="f" cx="646.9" cy="347" rx="4.2" ry="2.45"/><ellipse class="o" cx="646.9" cy="393.2" rx="4" ry="2.25"/><ellipse class="f" cx="647.5" cy="366.6" rx="4.2" ry="2.45"/><ellipse class="f" cx="648.1" cy="306.9" rx="4.2" ry="2.45"/><ellipse class="o" cx="648.4" cy="446.2" rx="4" ry="2.25"/><ellipse class="o" cx="648.8" cy="459.9" rx="4" ry="2.25"/><ellipse class="f" cx="649.1" cy="384.9" rx="4.2" ry="2.45"/><ellipse class="f" cx="649.8" cy="314.8" rx="4.2" ry="2.45"/><ellipse class="o" cx="649.8" cy="402.4" rx="4" ry="2.25"/><ellipse class="f" cx="650.6" cy="331" rx="4.2" ry="2.45"/><ellipse class="o" cx="650.6" cy="335.6" rx="4" ry="2.25"/><ellipse class="f" cx="651.2" cy="320.9" rx="4.2" ry="2.45"/><ellipse class="o" cx="651.6" cy="300.2" rx="4" ry="2.25"/><ellipse class="f" cx="652.5" cy="369.8" rx="4.2" ry="2.45"/><ellipse class="o" cx="652.5" cy="392" rx="4" ry="2.25"/><ellipse class="o" cx="652.5" cy="444.6" rx="4" ry="2.25"/><ellipse class="f" cx="653.1" cy="296.9" rx="4.2" ry="2.45"/><ellipse class="o" cx="653.1" cy="363.5" rx="4" ry="2.25"/><ellipse class="f" cx="653.8" cy="306.9" rx="4.2" ry="2.45"/><ellipse class="o" cx="654.4" cy="395.5" rx="4" ry="2.25"/><ellipse class="f" cx="654.8" cy="246.9" rx="4.2" ry="2.45"/><ellipse class="f" cx="655" cy="376.8" rx="4.2" ry="2.45"/><ellipse class="f" cx="655.4" cy="265.6" rx="4.2" ry="2.45"/><ellipse class="f" cx="656.9" cy="405.1" rx="4.2" ry="2.45"/><ellipse class="o" cx="657.9" cy="389.5" rx="4" ry="2.25"/><ellipse class="o" cx="658.1" cy="336" rx="4" ry="2.25"/><ellipse class="f" cx="659.4" cy="359.5" rx="4.2" ry="2.45"/><ellipse class="o" cx="659.4" cy="476.9" rx="4" ry="2.25"/><ellipse class="f" cx="660.6" cy="282.9" rx="4.2" ry="2.45"/><ellipse class="f" cx="661.9" cy="306.5" rx="4.2" ry="2.45"/><ellipse class="o" cx="661.9" cy="403.2" rx="4" ry="2.25"/><ellipse class="o" cx="661.9" cy="445.9" rx="4" ry="2.25"/><ellipse class="f" cx="662.9" cy="378.2" rx="4.2" ry="2.45"/><ellipse class="o" cx="663.1" cy="335.6" rx="4" ry="2.25"/><ellipse class="o" cx="663.4" cy="392.6" rx="4" ry="2.25"/><ellipse class="f" cx="663.5" cy="322.2" rx="4.2" ry="2.45"/><ellipse class="o" cx="663.5" cy="398.6" rx="4" ry="2.25"/><ellipse class="o" cx="663.8" cy="419.2" rx="4" ry="2.25"/><ellipse class="f" cx="664.4" cy="327.9" rx="4.2" ry="2.45"/><ellipse class="f" cx="665" cy="358.5" rx="4.2" ry="2.45"/><ellipse class="o" cx="665" cy="369.2" rx="4" ry="2.25"/><ellipse class="f" cx="665.6" cy="289.4" rx="4.2" ry="2.45"/><ellipse class="o" cx="666.9" cy="434.6" rx="4" ry="2.25"/><ellipse class="o" cx="667.2" cy="486.5" rx="4" ry="2.25"/><ellipse class="f" cx="668.1" cy="308.1" rx="4.2" ry="2.45"/><ellipse class="f" cx="668.1" cy="331.2" rx="4.2" ry="2.45"/><ellipse class="o" cx="668.1" cy="395.5" rx="4" ry="2.25"/><ellipse class="f" cx="668.8" cy="291" rx="4.2" ry="2.45"/><ellipse class="f" cx="668.8" cy="361" rx="4.2" ry="2.45"/><ellipse class="o" cx="669" cy="385.1" rx="4" ry="2.25"/><ellipse class="f" cx="670" cy="400.8" rx="4.2" ry="2.45"/><ellipse class="o" cx="670" cy="410.8" rx="4" ry="2.25"/><ellipse class="o" cx="671" cy="389.5" rx="4" ry="2.25"/><ellipse class="f" cx="671.2" cy="393.2" rx="4.2" ry="2.45"/><ellipse class="f" cx="671.9" cy="299.4" rx="4.2" ry="2.45"/><ellipse class="f" cx="671.9" cy="339.2" rx="4.2" ry="2.45"/><ellipse class="o" cx="672.1" cy="383.9" rx="4" ry="2.25"/><ellipse class="o" cx="672.5" cy="437.1" rx="4" ry="2.25"/><ellipse class="o" cx="673.8" cy="366.6" rx="4" ry="2.25"/><ellipse class="f" cx="674.4" cy="315.4" rx="4.2" ry="2.45"/><ellipse class="o" cx="674.4" cy="387.4" rx="4" ry="2.25"/><ellipse class="f" cx="675.6" cy="295.2" rx="4.2" ry="2.45"/><ellipse class="o" cx="675.6" cy="380.8" rx="4" ry="2.25"/><ellipse class="f" cx="676.2" cy="443.4" rx="4.2" ry="2.45"/><ellipse class="f" cx="676.5" cy="276.5" rx="4.2" ry="2.45"/><ellipse class="f" cx="676.9" cy="369.8" rx="4.2" ry="2.45"/><ellipse class="f" cx="676.9" cy="403.6" rx="4.2" ry="2.45"/><ellipse class="o" cx="677.5" cy="445.2" rx="4" ry="2.25"/><ellipse class="o" cx="677.8" cy="352.2" rx="4" ry="2.25"/><ellipse class="o" cx="677.8" cy="449" rx="4" ry="2.25"/><ellipse class="f" cx="678.1" cy="374.5" rx="4.2" ry="2.45"/><ellipse class="f" cx="678.1" cy="429.5" rx="4.2" ry="2.45"/><ellipse class="f" cx="680.2" cy="342.2" rx="4.2" ry="2.45"/><ellipse class="o" cx="680.6" cy="309.4" rx="4" ry="2.25"/><ellipse class="f" cx="680.6" cy="392" rx="4.2" ry="2.45"/><ellipse class="o" cx="680.9" cy="326.9" rx="4" ry="2.25"/><ellipse class="f" cx="686.5" cy="357" rx="4.2" ry="2.45"/><ellipse class="o" cx="686.6" cy="409.5" rx="4" ry="2.25"/><ellipse class="f" cx="686.9" cy="377.2" rx="4.2" ry="2.45"/><ellipse class="o" cx="686.9" cy="425.1" rx="4" ry="2.25"/><ellipse class="f" cx="687.5" cy="370.1" rx="4.2" ry="2.45"/><ellipse class="o" cx="688.1" cy="391.6" rx="4" ry="2.25"/><ellipse class="o" cx="688.1" cy="453.8" rx="4" ry="2.25"/><ellipse class="f" cx="689" cy="288.4" rx="4.2" ry="2.45"/><ellipse class="f" cx="689.4" cy="360.1" rx="4.2" ry="2.45"/><ellipse class="o" cx="689.4" cy="463.4" rx="4" ry="2.25"/><ellipse class="f" cx="690" cy="346.8" rx="4.2" ry="2.45"/><ellipse class="o" cx="691" cy="437.1" rx="4" ry="2.25"/><ellipse class="o" cx="691.2" cy="350.1" rx="4" ry="2.25"/><ellipse class="f" cx="691.5" cy="312.5" rx="4.2" ry="2.45"/><ellipse class="f" cx="691.9" cy="334.4" rx="4.2" ry="2.45"/><ellipse class="f" cx="691.9" cy="401.4" rx="4.2" ry="2.45"/><ellipse class="o" cx="691.9" cy="423.2" rx="4" ry="2.25"/><ellipse class="o" cx="692.5" cy="481.1" rx="4" ry="2.25"/><ellipse class="o" cx="693.8" cy="376.8" rx="4" ry="2.25"/><ellipse class="o" cx="695" cy="447.4" rx="4" ry="2.25"/><ellipse class="f" cx="695.2" cy="318.8" rx="4.2" ry="2.45"/><ellipse class="f" cx="695.6" cy="341.4" rx="4.2" ry="2.45"/><ellipse class="f" cx="695.6" cy="398.9" rx="4.2" ry="2.45"/><ellipse class="o" cx="697.1" cy="387" rx="4" ry="2.25"/><ellipse class="f" cx="697.5" cy="326.6" rx="4.2" ry="2.45"/><ellipse class="o" cx="697.5" cy="423.2" rx="4" ry="2.25"/><ellipse class="o" cx="697.5" cy="431.4" rx="4" ry="2.25"/><ellipse class="f" cx="698.1" cy="362" rx="4.2" ry="2.45"/><ellipse class="o" cx="700" cy="405.1" rx="4" ry="2.25"/><ellipse class="f" cx="700.6" cy="286" rx="4.2" ry="2.45"/><ellipse class="f" cx="700.6" cy="336.2" rx="4.2" ry="2.45"/><ellipse class="o" cx="700.6" cy="393.9" rx="4" ry="2.25"/><ellipse class="o" cx="700.6" cy="460.2" rx="4" ry="2.25"/><ellipse class="o" cx="702.1" cy="265" rx="4" ry="2.25"/><ellipse class="f" cx="702.2" cy="260.2" rx="4.2" ry="2.45"/><ellipse class="o" cx="702.5" cy="427" rx="4" ry="2.25"/><ellipse class="f" cx="703.1" cy="357" rx="4.2" ry="2.45"/><ellipse class="f" cx="703.8" cy="343.9" rx="4.2" ry="2.45"/><ellipse class="f" cx="704.4" cy="312.2" rx="4.2" ry="2.45"/><ellipse class="o" cx="704.4" cy="376.8" rx="4" ry="2.25"/><ellipse class="f" cx="705" cy="288.8" rx="4.2" ry="2.45"/><ellipse class="o" cx="705" cy="323.1" rx="4" ry="2.25"/><ellipse class="o" cx="705.2" cy="481.2" rx="4" ry="2.25"/><ellipse class="f" cx="705.6" cy="329" rx="4.2" ry="2.45"/><ellipse class="o" cx="706" cy="409.2" rx="4" ry="2.25"/><ellipse class="o" cx="706.2" cy="396.4" rx="4" ry="2.25"/><ellipse class="f" cx="706.9" cy="301.2" rx="4.2" ry="2.45"/><ellipse class="f" cx="708.1" cy="336.2" rx="4.2" ry="2.45"/><ellipse class="f" cx="708.1" cy="359.5" rx="4.2" ry="2.45"/><ellipse class="o" cx="708.1" cy="392" rx="4" ry="2.25"/><ellipse class="o" cx="708.1" cy="416.4" rx="4" ry="2.25"/><ellipse class="o" cx="708.1" cy="453.4" rx="4" ry="2.25"/><ellipse class="f" cx="708.8" cy="290.6" rx="4.2" ry="2.45"/><ellipse class="f" cx="708.8" cy="313.8" rx="4.2" ry="2.45"/><ellipse class="f" cx="710.6" cy="336.2" rx="4.2" ry="2.45"/><ellipse class="o" cx="711" cy="383.5" rx="4" ry="2.25"/><ellipse class="f" cx="711.2" cy="314.4" rx="4.2" ry="2.45"/><ellipse class="f" cx="711.2" cy="323.5" rx="4.2" ry="2.45"/><ellipse class="f" cx="711.9" cy="288.1" rx="4.2" ry="2.45"/><ellipse class="o" cx="711.9" cy="327.2" rx="4" ry="2.25"/><ellipse class="o" cx="711.9" cy="375.1" rx="4" ry="2.25"/><ellipse class="f" cx="712.5" cy="253.5" rx="4.2" ry="2.45"/><ellipse class="f" cx="712.5" cy="282.2" rx="4.2" ry="2.45"/><ellipse class="o" cx="712.5" cy="423.5" rx="4" ry="2.25"/><ellipse class="f" cx="715" cy="275.6" rx="4.2" ry="2.45"/><ellipse class="f" cx="715" cy="290" rx="4.2" ry="2.45"/><ellipse class="f" cx="715" cy="338.9" rx="4.2" ry="2.45"/><ellipse class="o" cx="715" cy="385.1" rx="4" ry="2.25"/><ellipse class="f" cx="715.6" cy="296.9" rx="4.2" ry="2.45"/><ellipse class="o" cx="716" cy="290.2" rx="4" ry="2.25"/><ellipse class="f" cx="716.2" cy="309.4" rx="4.2" ry="2.45"/><ellipse class="o" cx="716.2" cy="344.5" rx="4" ry="2.25"/><ellipse class="o" cx="716.2" cy="467.4" rx="4" ry="2.25"/><ellipse class="o" cx="717.5" cy="398.6" rx="4" ry="2.25"/><ellipse class="f" cx="718.1" cy="282.8" rx="4.2" ry="2.45"/><ellipse class="f" cx="718.1" cy="323.1" rx="4.2" ry="2.45"/><ellipse class="o" cx="718.1" cy="376.4" rx="4" ry="2.25"/><ellipse class="o" cx="718.5" cy="333.1" rx="4" ry="2.25"/><ellipse class="f" cx="718.8" cy="263.1" rx="4.2" ry="2.45"/><ellipse class="f" cx="719.4" cy="355.4" rx="4.2" ry="2.45"/><ellipse class="f" cx="720.6" cy="329.4" rx="4.2" ry="2.45"/><ellipse class="o" cx="720.6" cy="393.9" rx="4" ry="2.25"/><ellipse class="f" cx="721.5" cy="316.5" rx="4.2" ry="2.45"/><ellipse class="o" cx="721.9" cy="365.8" rx="4" ry="2.25"/><ellipse class="f" cx="722.5" cy="340.1" rx="4.2" ry="2.45"/><ellipse class="o" cx="722.5" cy="378.6" rx="4" ry="2.25"/><ellipse class="o" cx="722.5" cy="422" rx="4" ry="2.25"/><ellipse class="f" cx="723.8" cy="344.5" rx="4.2" ry="2.45"/><ellipse class="f" cx="725" cy="361" rx="4.2" ry="2.45"/><ellipse class="f" cx="725.6" cy="301.9" rx="4.2" ry="2.45"/><ellipse class="f" cx="725.6" cy="410.5" rx="4.2" ry="2.45"/><ellipse class="o" cx="725.6" cy="448.4" rx="4" ry="2.25"/><ellipse class="f" cx="726.9" cy="295.4" rx="4.2" ry="2.45"/><ellipse class="f" cx="727.5" cy="347.6" rx="4.2" ry="2.45"/><ellipse class="o" cx="727.5" cy="352.6" rx="4" ry="2.25"/><ellipse class="o" cx="728.1" cy="398.2" rx="4" ry="2.25"/><ellipse class="f" cx="728.8" cy="336.5" rx="4.2" ry="2.45"/><ellipse class="f" cx="728.8" cy="338.9" rx="4.2" ry="2.45"/><ellipse class="o" cx="730" cy="444.2" rx="4" ry="2.25"/><ellipse class="f" cx="730.6" cy="289.6" rx="4.2" ry="2.45"/><ellipse class="o" cx="730.6" cy="343.9" rx="4" ry="2.25"/><ellipse class="o" cx="730.6" cy="412.4" rx="4" ry="2.25"/><ellipse class="f" cx="731.2" cy="408.2" rx="4.2" ry="2.45"/><ellipse class="o" cx="732.5" cy="379.9" rx="4" ry="2.25"/><ellipse class="f" cx="732.9" cy="323.4" rx="4.2" ry="2.45"/><ellipse class="f" cx="733.1" cy="395.4" rx="4.2" ry="2.45"/><ellipse class="o" cx="733.4" cy="494" rx="4" ry="2.25"/><ellipse class="f" cx="734.4" cy="274.4" rx="4.2" ry="2.45"/><ellipse class="f" cx="734.4" cy="367.6" rx="4.2" ry="2.45"/><ellipse class="o" cx="734.4" cy="360.5" rx="4" ry="2.25"/><ellipse class="f" cx="735" cy="347.6" rx="4.2" ry="2.45"/><ellipse class="f" cx="735.6" cy="305.6" rx="4.2" ry="2.45"/><ellipse class="o" cx="735.6" cy="429.2" rx="4" ry="2.25"/><ellipse class="o" cx="736.5" cy="439" rx="4" ry="2.25"/><ellipse class="f" cx="736.9" cy="277.2" rx="4.2" ry="2.45"/><ellipse class="o" cx="736.9" cy="381.8" rx="4" ry="2.25"/><ellipse class="f" cx="737.5" cy="309" rx="4.2" ry="2.45"/><ellipse class="o" cx="737.5" cy="402.2" rx="4" ry="2.25"/><ellipse class="o" cx="739.4" cy="429.2" rx="4" ry="2.25"/><ellipse class="f" cx="740" cy="336.2" rx="4.2" ry="2.45"/><ellipse class="f" cx="740" cy="338.2" rx="4.2" ry="2.45"/><ellipse class="o" cx="740" cy="455.2" rx="4" ry="2.25"/><ellipse class="o" cx="740.6" cy="397.9" rx="4" ry="2.25"/><ellipse class="f" cx="741.2" cy="322.2" rx="4.2" ry="2.45"/><ellipse class="f" cx="741.9" cy="343.9" rx="4.2" ry="2.45"/><ellipse class="f" cx="742.2" cy="301.9" rx="4.2" ry="2.45"/><ellipse class="o" cx="742.5" cy="366.6" rx="4" ry="2.25"/><ellipse class="f" cx="744" cy="291.2" rx="4.2" ry="2.45"/><ellipse class="f" cx="744.4" cy="325.9" rx="4.2" ry="2.45"/><ellipse class="o" cx="744.6" cy="446.1" rx="4" ry="2.25"/><ellipse class="f" cx="744.8" cy="313.5" rx="4.2" ry="2.45"/><ellipse class="o" cx="745" cy="404.5" rx="4" ry="2.25"/><ellipse class="f" cx="745.6" cy="320" rx="4.2" ry="2.45"/><ellipse class="o" cx="745.6" cy="412.4" rx="4" ry="2.25"/><ellipse class="o" cx="746.9" cy="355.8" rx="4" ry="2.25"/><ellipse class="o" cx="746.9" cy="395.1" rx="4" ry="2.25"/><ellipse class="f" cx="747.2" cy="297.2" rx="4.2" ry="2.45"/><ellipse class="f" cx="747.5" cy="309" rx="4.2" ry="2.45"/><ellipse class="f" cx="747.5" cy="350.1" rx="4.2" ry="2.45"/><ellipse class="o" cx="748.1" cy="364.5" rx="4" ry="2.25"/><ellipse class="o" cx="748.1" cy="398.2" rx="4" ry="2.25"/><ellipse class="o" cx="748.1" cy="423.9" rx="4" ry="2.25"/><ellipse class="f" cx="749" cy="272.2" rx="4.2" ry="2.45"/><ellipse class="o" cx="750.6" cy="433.2" rx="4" ry="2.25"/><ellipse class="f" cx="751" cy="288.1" rx="4.2" ry="2.45"/><ellipse class="f" cx="752.5" cy="352.6" rx="4.2" ry="2.45"/><ellipse class="f" cx="753.1" cy="318.8" rx="4.2" ry="2.45"/><ellipse class="o" cx="753.1" cy="403.2" rx="4" ry="2.25"/><ellipse class="o" cx="753.5" cy="489.4" rx="4" ry="2.25"/><ellipse class="o" cx="753.8" cy="346" rx="4" ry="2.25"/><ellipse class="f" cx="754" cy="315.6" rx="4.2" ry="2.45"/><ellipse class="f" cx="754.4" cy="339.5" rx="4.2" ry="2.45"/><ellipse class="f" cx="754.4" cy="378.9" rx="4.2" ry="2.45"/><ellipse class="f" cx="755" cy="276.2" rx="4.2" ry="2.45"/><ellipse class="f" cx="755" cy="284" rx="4.2" ry="2.45"/><ellipse class="f" cx="756.9" cy="331.9" rx="4.2" ry="2.45"/><ellipse class="o" cx="756.9" cy="356.4" rx="4" ry="2.25"/><ellipse class="o" cx="757.5" cy="348.9" rx="4" ry="2.25"/><ellipse class="o" cx="757.5" cy="447.8" rx="4" ry="2.25"/><ellipse class="o" cx="757.5" cy="498.6" rx="4" ry="2.25"/><ellipse class="f" cx="757.8" cy="308.8" rx="4.2" ry="2.45"/><ellipse class="f" cx="758.1" cy="386.6" rx="4.2" ry="2.45"/><ellipse class="o" cx="758.5" cy="288.4" rx="4" ry="2.25"/><ellipse class="f" cx="758.8" cy="413" rx="4.2" ry="2.45"/><ellipse class="f" cx="760" cy="326.6" rx="4.2" ry="2.45"/><ellipse class="o" cx="760.4" cy="424.1" rx="4" ry="2.25"/><ellipse class="f" cx="760.6" cy="342" rx="4.2" ry="2.45"/><ellipse class="o" cx="760.6" cy="419.5" rx="4" ry="2.25"/><ellipse class="o" cx="761.6" cy="314.4" rx="4" ry="2.25"/><ellipse class="f" cx="761.9" cy="393.5" rx="4.2" ry="2.45"/><ellipse class="o" cx="763.8" cy="369.8" rx="4" ry="2.25"/><ellipse class="o" cx="764.4" cy="281.5" rx="4" ry="2.25"/><ellipse class="f" cx="765" cy="276.2" rx="4.2" ry="2.45"/><ellipse class="f" cx="765" cy="331.9" rx="4.2" ry="2.45"/><ellipse class="o" cx="765.6" cy="335.6" rx="4" ry="2.25"/><ellipse class="o" cx="765.6" cy="357" rx="4" ry="2.25"/><ellipse class="f" cx="765.9" cy="265.9" rx="4.2" ry="2.45"/><ellipse class="f" cx="765.9" cy="293.5" rx="4.2" ry="2.45"/><ellipse class="o" cx="766.2" cy="487.8" rx="4" ry="2.25"/><ellipse class="f" cx="767.5" cy="328.1" rx="4.2" ry="2.45"/><ellipse class="o" cx="767.5" cy="318.8" rx="4" ry="2.25"/><ellipse class="f" cx="767.5" cy="339.5" rx="4.2" ry="2.45"/><ellipse class="o" cx="767.8" cy="399.5" rx="4" ry="2.25"/><ellipse class="o" cx="768.1" cy="287.5" rx="4" ry="2.25"/><ellipse class="f" cx="768.4" cy="310.2" rx="4.2" ry="2.45"/><ellipse class="f" cx="770.6" cy="321.9" rx="4.2" ry="2.45"/><ellipse class="o" cx="770.6" cy="352" rx="4" ry="2.25"/><ellipse class="o" cx="770.6" cy="393.2" rx="4" ry="2.25"/><ellipse class="o" cx="771.6" cy="319" rx="4" ry="2.25"/><ellipse class="f" cx="771.9" cy="366.4" rx="4.2" ry="2.45"/><ellipse class="o" cx="772.1" cy="408.9" rx="4" ry="2.25"/><ellipse class="f" cx="772.5" cy="355.8" rx="4.2" ry="2.45"/><ellipse class="f" cx="774.4" cy="287.2" rx="4.2" ry="2.45"/><ellipse class="f" cx="774.4" cy="343.2" rx="4.2" ry="2.45"/><ellipse class="o" cx="775" cy="368.2" rx="4" ry="2.25"/><ellipse class="o" cx="775" cy="476.9" rx="4" ry="2.25"/><ellipse class="o" cx="775.4" cy="328.5" rx="4" ry="2.25"/><ellipse class="o" cx="775.6" cy="395.1" rx="4" ry="2.25"/><ellipse class="f" cx="776.2" cy="348.9" rx="4.2" ry="2.45"/><ellipse class="o" cx="777.5" cy="376.8" rx="4" ry="2.25"/><ellipse class="f" cx="778.1" cy="302.5" rx="4.2" ry="2.45"/><ellipse class="o" cx="778.4" cy="386.6" rx="4" ry="2.25"/><ellipse class="f" cx="778.8" cy="297.8" rx="4.2" ry="2.45"/><ellipse class="f" cx="778.8" cy="362" rx="4.2" ry="2.45"/><ellipse class="o" cx="778.8" cy="418.5" rx="4" ry="2.25"/><ellipse class="f" cx="780.6" cy="322.2" rx="4.2" ry="2.45"/><ellipse class="f" cx="781.2" cy="295" rx="4.2" ry="2.45"/><ellipse class="o" cx="781.9" cy="334.4" rx="4" ry="2.25"/><ellipse class="f" cx="782.5" cy="326.2" rx="4.2" ry="2.45"/><ellipse class="f" cx="783.1" cy="302.5" rx="4.2" ry="2.45"/><ellipse class="o" cx="783.1" cy="417.4" rx="4" ry="2.25"/><ellipse class="o" cx="785" cy="364.8" rx="4" ry="2.25"/><ellipse class="f" cx="785.4" cy="400.4" rx="4.2" ry="2.45"/><ellipse class="o" cx="785.9" cy="290.6" rx="4" ry="2.25"/><ellipse class="o" cx="786.5" cy="353.2" rx="4" ry="2.25"/><ellipse class="o" cx="787.1" cy="479.6" rx="4" ry="2.25"/><ellipse class="f" cx="787.5" cy="277.9" rx="4.2" ry="2.45"/><ellipse class="f" cx="787.5" cy="350.1" rx="4.2" ry="2.45"/><ellipse class="o" cx="787.8" cy="384.5" rx="4" ry="2.25"/><ellipse class="f" cx="788.1" cy="322.8" rx="4.2" ry="2.45"/><ellipse class="o" cx="788.1" cy="387.4" rx="4" ry="2.25"/><ellipse class="o" cx="788.8" cy="450.2" rx="4" ry="2.25"/><ellipse class="o" cx="789" cy="376.1" rx="4" ry="2.25"/><ellipse class="f" cx="789.4" cy="333.8" rx="4.2" ry="2.45"/><ellipse class="f" cx="789.4" cy="346.4" rx="4.2" ry="2.45"/><ellipse class="o" cx="791.5" cy="422.6" rx="4" ry="2.25"/><ellipse class="f" cx="791.9" cy="340.1" rx="4.2" ry="2.45"/><ellipse class="o" cx="791.9" cy="360.8" rx="4" ry="2.25"/><ellipse class="o" cx="792.2" cy="429.5" rx="4" ry="2.25"/><ellipse class="f" cx="792.5" cy="320.6" rx="4.2" ry="2.45"/><ellipse class="f" cx="793.1" cy="349.5" rx="4.2" ry="2.45"/><ellipse class="f" cx="793.1" cy="366.4" rx="4.2" ry="2.45"/><ellipse class="o" cx="793.8" cy="385.1" rx="4" ry="2.25"/><ellipse class="o" cx="794" cy="336.2" rx="4" ry="2.25"/><ellipse class="o" cx="795" cy="298.1" rx="4" ry="2.25"/><ellipse class="f" cx="795.2" cy="316.9" rx="4.2" ry="2.45"/><ellipse class="o" cx="797.5" cy="393" rx="4" ry="2.25"/><ellipse class="f" cx="799" cy="296.2" rx="4.2" ry="2.45"/><ellipse class="o" cx="799" cy="483.4" rx="4" ry="2.25"/><ellipse class="f" cx="799.4" cy="255.4" rx="4.2" ry="2.45"/><ellipse class="o" cx="799.4" cy="386.6" rx="4" ry="2.25"/><ellipse class="o" cx="801.9" cy="433" rx="4" ry="2.25"/><ellipse class="f" cx="802.5" cy="263.5" rx="4.2" ry="2.45"/><ellipse class="f" cx="802.5" cy="268.8" rx="4.2" ry="2.45"/><ellipse class="o" cx="802.5" cy="418.2" rx="4" ry="2.25"/><ellipse class="o" cx="802.8" cy="423.9" rx="4" ry="2.25"/><ellipse class="f" cx="803.1" cy="377.2" rx="4.2" ry="2.45"/><ellipse class="o" cx="803.1" cy="366" rx="4" ry="2.25"/><ellipse class="f" cx="803.8" cy="301.2" rx="4.2" ry="2.45"/><ellipse class="f" cx="805" cy="347.6" rx="4.2" ry="2.45"/><ellipse class="o" cx="805" cy="409.2" rx="4" ry="2.25"/><ellipse class="o" cx="806" cy="456.2" rx="4" ry="2.25"/><ellipse class="f" cx="806.2" cy="322.2" rx="4.2" ry="2.45"/><ellipse class="f" cx="806.9" cy="305.2" rx="4.2" ry="2.45"/><ellipse class="f" cx="806.9" cy="363.2" rx="4.2" ry="2.45"/><ellipse class="o" cx="809.4" cy="380.1" rx="4" ry="2.25"/><ellipse class="f" cx="809.6" cy="312.5" rx="4.2" ry="2.45"/><ellipse class="f" cx="810" cy="325" rx="4.2" ry="2.45"/><ellipse class="f" cx="810" cy="346.4" rx="4.2" ry="2.45"/><ellipse class="o" cx="810" cy="393" rx="4" ry="2.25"/><ellipse class="o" cx="810" cy="399.1" rx="4" ry="2.25"/><ellipse class="o" cx="810" cy="410.8" rx="4" ry="2.25"/><ellipse class="f" cx="810.6" cy="315.4" rx="4.2" ry="2.45"/><ellipse class="f" cx="812.5" cy="383.9" rx="4.2" ry="2.45"/><ellipse class="o" cx="812.5" cy="418.5" rx="4" ry="2.25"/><ellipse class="o" cx="812.8" cy="471.8" rx="4" ry="2.25"/><ellipse class="o" cx="812.8" cy="485.6" rx="4" ry="2.25"/><ellipse class="f" cx="813.1" cy="290.6" rx="4.2" ry="2.45"/><ellipse class="f" cx="813.5" cy="254.8" rx="4.2" ry="2.45"/><ellipse class="f" cx="814.4" cy="386.4" rx="4.2" ry="2.45"/><ellipse class="f" cx="815.6" cy="402" rx="4.2" ry="2.45"/><ellipse class="f" cx="816.2" cy="340.8" rx="4.2" ry="2.45"/><ellipse class="o" cx="816.2" cy="395.5" rx="4" ry="2.25"/><ellipse class="o" cx="816.2" cy="406.6" rx="4" ry="2.25"/><ellipse class="f" cx="816.9" cy="300.9" rx="4.2" ry="2.45"/><ellipse class="f" cx="816.9" cy="318.5" rx="4.2" ry="2.45"/><ellipse class="o" cx="816.9" cy="453.4" rx="4" ry="2.25"/><ellipse class="o" cx="816.9" cy="457.4" rx="4" ry="2.25"/><ellipse class="o" cx="818.1" cy="349.1" rx="4" ry="2.25"/><ellipse class="f" cx="818.8" cy="289.4" rx="4.2" ry="2.45"/><ellipse class="f" cx="818.8" cy="306.5" rx="4.2" ry="2.45"/><ellipse class="o" cx="819.1" cy="463.6" rx="4" ry="2.25"/><ellipse class="f" cx="819.4" cy="355.4" rx="4.2" ry="2.45"/><ellipse class="f" cx="820" cy="336.2" rx="4.2" ry="2.45"/><ellipse class="f" cx="820" cy="365.1" rx="4.2" ry="2.45"/><ellipse class="o" cx="820.6" cy="387" rx="4" ry="2.25"/><ellipse class="o" cx="820.9" cy="493.8" rx="4" ry="2.25"/><ellipse class="o" cx="822.5" cy="415.4" rx="4" ry="2.25"/><ellipse class="f" cx="823.1" cy="322.2" rx="4.2" ry="2.45"/><ellipse class="o" cx="823.1" cy="405.8" rx="4" ry="2.25"/><ellipse class="f" cx="823.4" cy="275.9" rx="4.2" ry="2.45"/><ellipse class="f" cx="823.8" cy="362.6" rx="4.2" ry="2.45"/><ellipse class="o" cx="823.8" cy="389.8" rx="4" ry="2.25"/><ellipse class="f" cx="824.4" cy="333.8" rx="4.2" ry="2.45"/><ellipse class="o" cx="824.4" cy="369.5" rx="4" ry="2.25"/><ellipse class="o" cx="824.8" cy="451.1" rx="4" ry="2.25"/><ellipse class="o" cx="825" cy="442.5" rx="4" ry="2.25"/><ellipse class="f" cx="826.2" cy="340.8" rx="4.2" ry="2.45"/><ellipse class="o" cx="826.2" cy="439" rx="4" ry="2.25"/><ellipse class="f" cx="827.5" cy="347" rx="4.2" ry="2.45"/><ellipse class="o" cx="827.5" cy="471.1" rx="4" ry="2.25"/><ellipse class="o" cx="828.1" cy="398.2" rx="4" ry="2.25"/><ellipse class="f" cx="828.8" cy="282.9" rx="4.2" ry="2.45"/><ellipse class="o" cx="828.8" cy="416.4" rx="4" ry="2.25"/><ellipse class="o" cx="829.4" cy="298.4" rx="4" ry="2.25"/><ellipse class="o" cx="829.4" cy="426" rx="4" ry="2.25"/><ellipse class="o" cx="829.6" cy="442.5" rx="4" ry="2.25"/><ellipse class="f" cx="830" cy="303.8" rx="4.2" ry="2.45"/><ellipse class="f" cx="830" cy="322.2" rx="4.2" ry="2.45"/><ellipse class="f" cx="830.6" cy="313.8" rx="4.2" ry="2.45"/><ellipse class="f" cx="830.6" cy="367" rx="4.2" ry="2.45"/><ellipse class="o" cx="832.5" cy="392.4" rx="4" ry="2.25"/><ellipse class="f" cx="833.1" cy="293.1" rx="4.2" ry="2.45"/><ellipse class="o" cx="833.1" cy="378.2" rx="4" ry="2.25"/><ellipse class="f" cx="833.8" cy="310" rx="4.2" ry="2.45"/><ellipse class="f" cx="833.8" cy="333.8" rx="4.2" ry="2.45"/><ellipse class="f" cx="833.8" cy="353.2" rx="4.2" ry="2.45"/><ellipse class="o" cx="833.8" cy="348.9" rx="4" ry="2.25"/><ellipse class="o" cx="833.8" cy="404.5" rx="4" ry="2.25"/><ellipse class="o" cx="833.8" cy="423.2" rx="4" ry="2.25"/><ellipse class="o" cx="836.2" cy="430.1" rx="4" ry="2.25"/><ellipse class="f" cx="837.8" cy="318.5" rx="4.2" ry="2.45"/><ellipse class="f" cx="838.1" cy="315.2" rx="4.2" ry="2.45"/><ellipse class="o" cx="838.1" cy="415.8" rx="4" ry="2.25"/><ellipse class="o" cx="839.4" cy="418.9" rx="4" ry="2.25"/><ellipse class="f" cx="840.2" cy="344.5" rx="4.2" ry="2.45"/><ellipse class="f" cx="840.6" cy="352.2" rx="4.2" ry="2.45"/><ellipse class="o" cx="840.6" cy="486.9" rx="4" ry="2.25"/><ellipse class="f" cx="841.2" cy="403.2" rx="4.2" ry="2.45"/><ellipse class="f" cx="841.2" cy="409.2" rx="4.2" ry="2.45"/><ellipse class="f" cx="842.5" cy="391.4" rx="4.2" ry="2.45"/><ellipse class="o" cx="843.4" cy="438.4" rx="4" ry="2.25"/><ellipse class="f" cx="844.4" cy="428" rx="4.2" ry="2.45"/><ellipse class="f" cx="845" cy="388.9" rx="4.2" ry="2.45"/><ellipse class="o" cx="845" cy="496.9" rx="4" ry="2.25"/><ellipse class="f" cx="845.6" cy="336" rx="4.2" ry="2.45"/><ellipse class="f" cx="845.6" cy="411.4" rx="4.2" ry="2.45"/><ellipse class="f" cx="848.1" cy="366.1" rx="4.2" ry="2.45"/><ellipse class="f" cx="848.5" cy="358.9" rx="4.2" ry="2.45"/><ellipse class="o" cx="848.8" cy="386.6" rx="4" ry="2.25"/><ellipse class="o" cx="849.4" cy="429.8" rx="4" ry="2.25"/><ellipse class="f" cx="851.2" cy="280.2" rx="4.2" ry="2.45"/><ellipse class="f" cx="851.2" cy="309.6" rx="4.2" ry="2.45"/><ellipse class="o" cx="851.2" cy="417.6" rx="4" ry="2.25"/><ellipse class="f" cx="851.6" cy="301.6" rx="4.2" ry="2.45"/><ellipse class="f" cx="851.9" cy="372.4" rx="4.2" ry="2.45"/><ellipse class="f" cx="851.9" cy="393.9" rx="4.2" ry="2.45"/><ellipse class="f" cx="852.5" cy="271.6" rx="4.2" ry="2.45"/><ellipse class="o" cx="852.9" cy="469.2" rx="4" ry="2.25"/><ellipse class="o" cx="853.8" cy="408.5" rx="4" ry="2.25"/><ellipse class="o" cx="854" cy="488.8" rx="4" ry="2.25"/><ellipse class="f" cx="855" cy="285.6" rx="4.2" ry="2.45"/><ellipse class="f" cx="855" cy="323.1" rx="4.2" ry="2.45"/><ellipse class="f" cx="855" cy="361.4" rx="4.2" ry="2.45"/><ellipse class="o" cx="855" cy="466.8" rx="4" ry="2.25"/><ellipse class="f" cx="855.6" cy="396" rx="4.2" ry="2.45"/><ellipse class="o" cx="855.6" cy="404.1" rx="4" ry="2.25"/><ellipse class="f" cx="856.2" cy="412" rx="4.2" ry="2.45"/><ellipse class="o" cx="856.9" cy="436.2" rx="4" ry="2.25"/><ellipse class="o" cx="857.1" cy="442.8" rx="4" ry="2.25"/><ellipse class="f" cx="857.8" cy="348.2" rx="4.2" ry="2.45"/><ellipse class="o" cx="857.8" cy="456.1" rx="4" ry="2.25"/><ellipse class="f" cx="858.1" cy="379.5" rx="4.2" ry="2.45"/><ellipse class="o" cx="859" cy="460.5" rx="4" ry="2.25"/><ellipse class="f" cx="859.4" cy="364.2" rx="4.2" ry="2.45"/><ellipse class="o" cx="859.4" cy="389.5" rx="4" ry="2.25"/><ellipse class="o" cx="859.4" cy="418.9" rx="4" ry="2.25"/><ellipse class="f" cx="860" cy="283.5" rx="4.2" ry="2.45"/><ellipse class="f" cx="860" cy="296.5" rx="4.2" ry="2.45"/><ellipse class="f" cx="860" cy="325.2" rx="4.2" ry="2.45"/><ellipse class="o" cx="861.9" cy="360.8" rx="4" ry="2.25"/><ellipse class="f" cx="862.5" cy="294.4" rx="4.2" ry="2.45"/><ellipse class="o" cx="862.5" cy="439.6" rx="4" ry="2.25"/><ellipse class="f" cx="863.1" cy="377.6" rx="4.2" ry="2.45"/><ellipse class="f" cx="863.1" cy="399.1" rx="4.2" ry="2.45"/><ellipse class="f" cx="863.8" cy="405.5" rx="4.2" ry="2.45"/><ellipse class="o" cx="863.8" cy="496.9" rx="4" ry="2.25"/><ellipse class="f" cx="864.8" cy="332.8" rx="4.2" ry="2.45"/><ellipse class="o" cx="865" cy="443.1" rx="4" ry="2.25"/><ellipse class="o" cx="865.9" cy="489.6" rx="4" ry="2.25"/><ellipse class="f" cx="866.2" cy="357.6" rx="4.2" ry="2.45"/><ellipse class="f" cx="866.2" cy="370.1" rx="4.2" ry="2.45"/><ellipse class="o" cx="866.2" cy="475" rx="4" ry="2.25"/><ellipse class="o" cx="866.9" cy="418.2" rx="4" ry="2.25"/><ellipse class="f" cx="868.1" cy="387.2" rx="4.2" ry="2.45"/><ellipse class="f" cx="868.1" cy="391" rx="4.2" ry="2.45"/><ellipse class="f" cx="868.1" cy="409.2" rx="4.2" ry="2.45"/><ellipse class="o" cx="868.8" cy="423.2" rx="4" ry="2.25"/><ellipse class="o" cx="870" cy="448.8" rx="4" ry="2.25"/><ellipse class="f" cx="870.2" cy="327.9" rx="4.2" ry="2.45"/><ellipse class="f" cx="870.6" cy="365.1" rx="4.2" ry="2.45"/><ellipse class="o" cx="870.6" cy="405.5" rx="4" ry="2.25"/><ellipse class="f" cx="871.9" cy="401.4" rx="4.2" ry="2.45"/><ellipse class="o" cx="871.9" cy="399.1" rx="4" ry="2.25"/><ellipse class="f" cx="872.5" cy="351.1" rx="4.2" ry="2.45"/><ellipse class="f" cx="872.5" cy="373.9" rx="4.2" ry="2.45"/><ellipse class="o" cx="872.5" cy="426" rx="4" ry="2.25"/><ellipse class="o" cx="872.5" cy="501.5" rx="4" ry="2.25"/><ellipse class="f" cx="873.8" cy="341.1" rx="4.2" ry="2.45"/><ellipse class="f" cx="875" cy="366.4" rx="4.2" ry="2.45"/><ellipse class="f" cx="875" cy="409.2" rx="4.2" ry="2.45"/><ellipse class="o" cx="875" cy="446.9" rx="4" ry="2.25"/><ellipse class="o" cx="875.9" cy="481.9" rx="4" ry="2.25"/><ellipse class="o" cx="876.2" cy="464.9" rx="4" ry="2.25"/><ellipse class="o" cx="877.2" cy="415.4" rx="4" ry="2.25"/><ellipse class="f" cx="877.5" cy="346" rx="4.2" ry="2.45"/><ellipse class="f" cx="879" cy="296.9" rx="4.2" ry="2.45"/><ellipse class="o" cx="879" cy="423.2" rx="4" ry="2.25"/><ellipse class="f" cx="879.4" cy="353.9" rx="4.2" ry="2.45"/><ellipse class="f" cx="879.4" cy="372.4" rx="4.2" ry="2.45"/><ellipse class="o" cx="880" cy="403.9" rx="4" ry="2.25"/><ellipse class="f" cx="880.2" cy="323.4" rx="4.2" ry="2.45"/><ellipse class="o" cx="880.6" cy="444.2" rx="4" ry="2.25"/><ellipse class="f" cx="881.2" cy="384.8" rx="4.2" ry="2.45"/><ellipse class="f" cx="881.5" cy="302.1" rx="4.2" ry="2.45"/><ellipse class="o" cx="881.5" cy="450.6" rx="4" ry="2.25"/><ellipse class="f" cx="883.1" cy="396.4" rx="4.2" ry="2.45"/><ellipse class="o" cx="883.1" cy="409.1" rx="4" ry="2.25"/></g>
<rect x="48" y="30" width="3" height="695" fill="#000"/>
<polygon points="49.5,6.2 42,35.6 57,35.6" fill="#000"/>
<rect x="39" y="370.9" width="922" height="3" fill="#000"/>
<rect x="44" y="105.9" width="11" height="3" fill="#000"/>
<rect x="44" y="195.9" width="11" height="3" fill="#000"/>
<rect x="44" y="281.9" width="11" height="3" fill="#000"/>
<rect x="44" y="461.9" width="11" height="3" fill="#000"/>
<rect x="44" y="549.9" width="11" height="3" fill="#000"/>
<rect x="44" y="637.9" width="11" height="3" fill="#000"/>
<text transform="matrix(0.2343 0 0 0.2342 66.42 57.17)" font-size="100" font-weight="bold" fill="#484848" >% Volume</text>
<text transform="matrix(0.2406 0 0 0.2369 65.99 83.57)" font-size="100" font-weight="bold" fill="#484848" >Deviation</text>
<text transform="matrix(0.2896 0 0 0.2655 17.94 115.94)" font-size="100" font-weight="bold" fill="#484848" >6</text>
<text transform="matrix(0.2726 0 0 0.2965 18.59 213.00)" font-size="100" font-weight="bold" fill="#484848" >4</text>
<text transform="matrix(0.2700 0 0 0.1919 18.46 292.40)" font-size="100" font-weight="bold" fill="#484848" >2</text>
<text transform="matrix(0.3028 0 0 0.1921 17.40 380.01)" font-size="100" font-weight="bold" fill="#484848" >0</text>
<text transform="matrix(0.2783 0 0 0.2005 18.04 470.00)" font-size="100" font-weight="bold" fill="#484848" >2</text>
<text transform="matrix(0.2651 0 0 0.2907 19.00 565.00)" font-size="100" font-weight="bold" fill="#484848" >4</text>
<text transform="matrix(0.2896 0 0 0.2910 17.94 646.92)" font-size="100" font-weight="bold" fill="#484848" >6</text>
<rect x="9.4" y="461.1" width="7" height="3" fill="#484848"/>
<rect x="9.4" y="551.5" width="7" height="3" fill="#484848"/>
<rect x="9.4" y="637.1" width="7" height="3" fill="#484848"/>
<text transform="matrix(0.2773 0 0 0.2077 146.79 721.05)" font-size="100" font-weight="bold" fill="#484848" stroke="#484848" stroke-width="0.5" vector-effect="non-scaling-stroke">2</text><text transform="matrix(0.2807 0 0 0.2048 162.69 720.85)" font-size="100" font-weight="bold" fill="#484848" stroke="#484848" stroke-width="0.5" vector-effect="non-scaling-stroke">0</text><text transform="matrix(0.2807 0 0 0.2048 178.74 720.85)" font-size="100" font-weight="bold" fill="#484848" stroke="#484848" stroke-width="0.5" vector-effect="non-scaling-stroke">0</text><text transform="matrix(0.2773 0 0 0.2077 194.94 721.05)" font-size="100" font-weight="bold" fill="#484848" stroke="#484848" stroke-width="0.5" vector-effect="non-scaling-stroke">2</text>
<text transform="matrix(0.2768 0 0 0.2077 278.09 721.05)" font-size="100" font-weight="bold" fill="#484848" stroke="#484848" stroke-width="0.5" vector-effect="non-scaling-stroke">2</text><text transform="matrix(0.2802 0 0 0.2048 293.97 720.85)" font-size="100" font-weight="bold" fill="#484848" stroke="#484848" stroke-width="0.5" vector-effect="non-scaling-stroke">0</text><text transform="matrix(0.2802 0 0 0.2048 309.99 720.85)" font-size="100" font-weight="bold" fill="#484848" stroke="#484848" stroke-width="0.5" vector-effect="non-scaling-stroke">0</text><text transform="matrix(0.2681 0 0 0.2664 326.51 725.15)" font-size="100" font-weight="bold" fill="#484848" stroke="#484848" stroke-width="0.5" vector-effect="non-scaling-stroke">3</text>
<text transform="matrix(0.2700 0 0 0.2077 409.31 721.05)" font-size="100" font-weight="bold" fill="#484848" stroke="#484848" stroke-width="0.5" vector-effect="non-scaling-stroke">2</text><text transform="matrix(0.2733 0 0 0.2048 424.87 720.85)" font-size="100" font-weight="bold" fill="#484848" stroke="#484848" stroke-width="0.5" vector-effect="non-scaling-stroke">0</text><text transform="matrix(0.2733 0 0 0.2048 440.57 720.85)" font-size="100" font-weight="bold" fill="#484848" stroke="#484848" stroke-width="0.5" vector-effect="non-scaling-stroke">0</text><text transform="matrix(0.2427 0 0 0.2747 456.98 725.45)" font-size="100" font-weight="bold" fill="#484848" stroke="#484848" stroke-width="0.5" vector-effect="non-scaling-stroke">4</text>
<text transform="matrix(0.2679 0 0 0.2077 536.82 721.05)" font-size="100" font-weight="bold" fill="#484848" stroke="#484848" stroke-width="0.5" vector-effect="non-scaling-stroke">2</text><text transform="matrix(0.2712 0 0 0.2048 552.28 720.85)" font-size="100" font-weight="bold" fill="#484848" stroke="#484848" stroke-width="0.5" vector-effect="non-scaling-stroke">0</text><text transform="matrix(0.2712 0 0 0.2048 567.88 720.85)" font-size="100" font-weight="bold" fill="#484848" stroke="#484848" stroke-width="0.5" vector-effect="non-scaling-stroke">0</text><text transform="matrix(0.2593 0 0 0.2709 583.75 725.19)" font-size="100" font-weight="bold" fill="#484848" stroke="#484848" stroke-width="0.5" vector-effect="non-scaling-stroke">5</text>
<text transform="matrix(0.2783 0 0 0.2077 668.09 721.05)" font-size="100" font-weight="bold" fill="#484848" stroke="#484848" stroke-width="0.5" vector-effect="non-scaling-stroke">2</text><text transform="matrix(0.2818 0 0 0.2048 684.04 720.85)" font-size="100" font-weight="bold" fill="#484848" stroke="#484848" stroke-width="0.5" vector-effect="non-scaling-stroke">0</text><text transform="matrix(0.2818 0 0 0.2048 700.14 720.85)" font-size="100" font-weight="bold" fill="#484848" stroke="#484848" stroke-width="0.5" vector-effect="non-scaling-stroke">0</text><text transform="matrix(0.2772 0 0 0.2797 716.33 720.78)" font-size="100" font-weight="bold" fill="#484848" stroke="#484848" stroke-width="0.5" vector-effect="non-scaling-stroke">6</text>
<text transform="matrix(0.2659 0 0 0.2077 798.33 721.05)" font-size="100" font-weight="bold" fill="#484848" stroke="#484848" stroke-width="0.5" vector-effect="non-scaling-stroke">2</text><text transform="matrix(0.2691 0 0 0.2048 813.69 720.85)" font-size="100" font-weight="bold" fill="#484848" stroke="#484848" stroke-width="0.5" vector-effect="non-scaling-stroke">0</text><text transform="matrix(0.2691 0 0 0.2048 829.19 720.85)" font-size="100" font-weight="bold" fill="#484848" stroke="#484848" stroke-width="0.5" vector-effect="non-scaling-stroke">0</text><text transform="matrix(0.2728 0 0 0.2747 844.58 725.45)" font-size="100" font-weight="bold" fill="#484848" stroke="#484848" stroke-width="0.5" vector-effect="non-scaling-stroke">7</text>
</svg>
</body></html>
